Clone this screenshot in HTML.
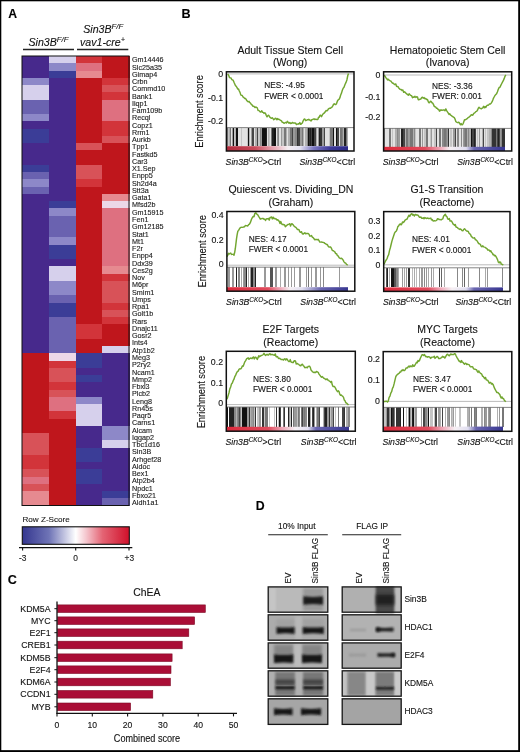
<!DOCTYPE html>
<html><head><meta charset="utf-8"><style>
html,body{margin:0;padding:0;background:#fff;overflow:hidden;width:520px;height:752px;}
svg{display:block;filter:blur(0.35px);}
text{stroke:#1a1a1a;stroke-width:0.12px;}
</style></head><body>
<svg width="520" height="752" viewBox="0 0 520 752">
<rect x="0" y="0" width="520" height="752" fill="#fff"/>
<g shape-rendering="crispEdges">
<rect x="22.00" y="56.00" width="27.25" height="7.75" fill="#47298c"/>
<rect x="22.00" y="63.25" width="27.25" height="7.75" fill="#47298c"/>
<rect x="22.00" y="70.50" width="27.25" height="7.75" fill="#47298c"/>
<rect x="22.00" y="77.75" width="27.25" height="7.75" fill="#8d88c8"/>
<rect x="22.00" y="85.00" width="27.25" height="7.75" fill="#d6d0ec"/>
<rect x="22.00" y="92.25" width="27.25" height="7.75" fill="#d6d0ec"/>
<rect x="22.00" y="99.50" width="27.25" height="7.75" fill="#6a62b0"/>
<rect x="22.00" y="106.75" width="27.25" height="7.75" fill="#6a62b0"/>
<rect x="22.00" y="114.00" width="27.25" height="7.75" fill="#8d88c8"/>
<rect x="22.00" y="121.25" width="27.25" height="7.75" fill="#47298c"/>
<rect x="22.00" y="128.50" width="27.25" height="7.75" fill="#3b3d97"/>
<rect x="22.00" y="135.75" width="27.25" height="7.75" fill="#3b3d97"/>
<rect x="22.00" y="143.00" width="27.25" height="7.75" fill="#47298c"/>
<rect x="22.00" y="150.25" width="27.25" height="7.75" fill="#47298c"/>
<rect x="22.00" y="157.50" width="27.25" height="7.75" fill="#47298c"/>
<rect x="22.00" y="164.75" width="27.25" height="7.75" fill="#3b3d97"/>
<rect x="22.00" y="172.00" width="27.25" height="7.75" fill="#6a62b0"/>
<rect x="22.00" y="179.25" width="27.25" height="7.75" fill="#8d88c8"/>
<rect x="22.00" y="186.50" width="27.25" height="7.75" fill="#6a62b0"/>
<rect x="22.00" y="193.75" width="27.25" height="7.75" fill="#47298c"/>
<rect x="22.00" y="201.00" width="27.25" height="7.75" fill="#47298c"/>
<rect x="22.00" y="208.25" width="27.25" height="7.75" fill="#47298c"/>
<rect x="22.00" y="215.50" width="27.25" height="7.75" fill="#47298c"/>
<rect x="22.00" y="222.75" width="27.25" height="7.75" fill="#47298c"/>
<rect x="22.00" y="230.00" width="27.25" height="7.75" fill="#47298c"/>
<rect x="22.00" y="237.25" width="27.25" height="7.75" fill="#47298c"/>
<rect x="22.00" y="244.50" width="27.25" height="7.75" fill="#47298c"/>
<rect x="22.00" y="251.75" width="27.25" height="7.75" fill="#47298c"/>
<rect x="22.00" y="259.00" width="27.25" height="7.75" fill="#47298c"/>
<rect x="22.00" y="266.25" width="27.25" height="7.75" fill="#47298c"/>
<rect x="22.00" y="273.50" width="27.25" height="7.75" fill="#47298c"/>
<rect x="22.00" y="280.75" width="27.25" height="7.75" fill="#47298c"/>
<rect x="22.00" y="288.00" width="27.25" height="7.75" fill="#47298c"/>
<rect x="22.00" y="295.25" width="27.25" height="7.75" fill="#47298c"/>
<rect x="22.00" y="302.50" width="27.25" height="7.75" fill="#47298c"/>
<rect x="22.00" y="309.75" width="27.25" height="7.75" fill="#47298c"/>
<rect x="22.00" y="317.00" width="27.25" height="7.75" fill="#47298c"/>
<rect x="22.00" y="324.25" width="27.25" height="7.75" fill="#47298c"/>
<rect x="22.00" y="331.50" width="27.25" height="7.75" fill="#47298c"/>
<rect x="22.00" y="338.75" width="27.25" height="7.75" fill="#47298c"/>
<rect x="22.00" y="346.00" width="27.25" height="7.75" fill="#47298c"/>
<rect x="22.00" y="353.25" width="27.25" height="7.75" fill="#bf161c"/>
<rect x="22.00" y="360.50" width="27.25" height="7.75" fill="#bf161c"/>
<rect x="22.00" y="367.75" width="27.25" height="7.75" fill="#bf161c"/>
<rect x="22.00" y="375.00" width="27.25" height="7.75" fill="#bf161c"/>
<rect x="22.00" y="382.25" width="27.25" height="7.75" fill="#bf161c"/>
<rect x="22.00" y="389.50" width="27.25" height="7.75" fill="#bf161c"/>
<rect x="22.00" y="396.75" width="27.25" height="7.75" fill="#bf161c"/>
<rect x="22.00" y="404.00" width="27.25" height="7.75" fill="#bf161c"/>
<rect x="22.00" y="411.25" width="27.25" height="7.75" fill="#bf161c"/>
<rect x="22.00" y="418.50" width="27.25" height="7.75" fill="#bf161c"/>
<rect x="22.00" y="425.75" width="27.25" height="7.75" fill="#bf161c"/>
<rect x="22.00" y="433.00" width="27.25" height="7.75" fill="#d85258"/>
<rect x="22.00" y="440.25" width="27.25" height="7.75" fill="#d85258"/>
<rect x="22.00" y="447.50" width="27.25" height="7.75" fill="#d85258"/>
<rect x="22.00" y="454.75" width="27.25" height="7.75" fill="#d2343a"/>
<rect x="22.00" y="462.00" width="27.25" height="7.75" fill="#d2343a"/>
<rect x="22.00" y="469.25" width="27.25" height="7.75" fill="#d85258"/>
<rect x="22.00" y="476.50" width="27.25" height="7.75" fill="#de7080"/>
<rect x="22.00" y="483.75" width="27.25" height="7.75" fill="#d85258"/>
<rect x="22.00" y="491.00" width="27.25" height="7.75" fill="#e68a90"/>
<rect x="22.00" y="498.25" width="27.25" height="7.75" fill="#e68a90"/>
<rect x="48.75" y="56.00" width="27.25" height="7.75" fill="#d6d0ec"/>
<rect x="48.75" y="63.25" width="27.25" height="7.75" fill="#8d88c8"/>
<rect x="48.75" y="70.50" width="27.25" height="7.75" fill="#3b3d97"/>
<rect x="48.75" y="77.75" width="27.25" height="7.75" fill="#47298c"/>
<rect x="48.75" y="85.00" width="27.25" height="7.75" fill="#47298c"/>
<rect x="48.75" y="92.25" width="27.25" height="7.75" fill="#47298c"/>
<rect x="48.75" y="99.50" width="27.25" height="7.75" fill="#47298c"/>
<rect x="48.75" y="106.75" width="27.25" height="7.75" fill="#47298c"/>
<rect x="48.75" y="114.00" width="27.25" height="7.75" fill="#47298c"/>
<rect x="48.75" y="121.25" width="27.25" height="7.75" fill="#47298c"/>
<rect x="48.75" y="128.50" width="27.25" height="7.75" fill="#47298c"/>
<rect x="48.75" y="135.75" width="27.25" height="7.75" fill="#47298c"/>
<rect x="48.75" y="143.00" width="27.25" height="7.75" fill="#47298c"/>
<rect x="48.75" y="150.25" width="27.25" height="7.75" fill="#47298c"/>
<rect x="48.75" y="157.50" width="27.25" height="7.75" fill="#47298c"/>
<rect x="48.75" y="164.75" width="27.25" height="7.75" fill="#47298c"/>
<rect x="48.75" y="172.00" width="27.25" height="7.75" fill="#47298c"/>
<rect x="48.75" y="179.25" width="27.25" height="7.75" fill="#47298c"/>
<rect x="48.75" y="186.50" width="27.25" height="7.75" fill="#47298c"/>
<rect x="48.75" y="193.75" width="27.25" height="7.75" fill="#47298c"/>
<rect x="48.75" y="201.00" width="27.25" height="7.75" fill="#3b3d97"/>
<rect x="48.75" y="208.25" width="27.25" height="7.75" fill="#8d88c8"/>
<rect x="48.75" y="215.50" width="27.25" height="7.75" fill="#6a62b0"/>
<rect x="48.75" y="222.75" width="27.25" height="7.75" fill="#6a62b0"/>
<rect x="48.75" y="230.00" width="27.25" height="7.75" fill="#6a62b0"/>
<rect x="48.75" y="237.25" width="27.25" height="7.75" fill="#8d88c8"/>
<rect x="48.75" y="244.50" width="27.25" height="7.75" fill="#3b3d97"/>
<rect x="48.75" y="251.75" width="27.25" height="7.75" fill="#3b3d97"/>
<rect x="48.75" y="259.00" width="27.25" height="7.75" fill="#47298c"/>
<rect x="48.75" y="266.25" width="27.25" height="7.75" fill="#d6d0ec"/>
<rect x="48.75" y="273.50" width="27.25" height="7.75" fill="#d6d0ec"/>
<rect x="48.75" y="280.75" width="27.25" height="7.75" fill="#8d88c8"/>
<rect x="48.75" y="288.00" width="27.25" height="7.75" fill="#8d88c8"/>
<rect x="48.75" y="295.25" width="27.25" height="7.75" fill="#6a62b0"/>
<rect x="48.75" y="302.50" width="27.25" height="7.75" fill="#3b3d97"/>
<rect x="48.75" y="309.75" width="27.25" height="7.75" fill="#3b3d97"/>
<rect x="48.75" y="317.00" width="27.25" height="7.75" fill="#6a62b0"/>
<rect x="48.75" y="324.25" width="27.25" height="7.75" fill="#6a62b0"/>
<rect x="48.75" y="331.50" width="27.25" height="7.75" fill="#6a62b0"/>
<rect x="48.75" y="338.75" width="27.25" height="7.75" fill="#6a62b0"/>
<rect x="48.75" y="346.00" width="27.25" height="7.75" fill="#6a62b0"/>
<rect x="48.75" y="353.25" width="27.25" height="7.75" fill="#ecd8e8"/>
<rect x="48.75" y="360.50" width="27.25" height="7.75" fill="#d2343a"/>
<rect x="48.75" y="367.75" width="27.25" height="7.75" fill="#d85258"/>
<rect x="48.75" y="375.00" width="27.25" height="7.75" fill="#d85258"/>
<rect x="48.75" y="382.25" width="27.25" height="7.75" fill="#d2343a"/>
<rect x="48.75" y="389.50" width="27.25" height="7.75" fill="#d85258"/>
<rect x="48.75" y="396.75" width="27.25" height="7.75" fill="#de7080"/>
<rect x="48.75" y="404.00" width="27.25" height="7.75" fill="#de7080"/>
<rect x="48.75" y="411.25" width="27.25" height="7.75" fill="#d2343a"/>
<rect x="48.75" y="418.50" width="27.25" height="7.75" fill="#bf161c"/>
<rect x="48.75" y="425.75" width="27.25" height="7.75" fill="#bf161c"/>
<rect x="48.75" y="433.00" width="27.25" height="7.75" fill="#bf161c"/>
<rect x="48.75" y="440.25" width="27.25" height="7.75" fill="#bf161c"/>
<rect x="48.75" y="447.50" width="27.25" height="7.75" fill="#bf161c"/>
<rect x="48.75" y="454.75" width="27.25" height="7.75" fill="#bf161c"/>
<rect x="48.75" y="462.00" width="27.25" height="7.75" fill="#bf161c"/>
<rect x="48.75" y="469.25" width="27.25" height="7.75" fill="#bf161c"/>
<rect x="48.75" y="476.50" width="27.25" height="7.75" fill="#bf161c"/>
<rect x="48.75" y="483.75" width="27.25" height="7.75" fill="#bf161c"/>
<rect x="48.75" y="491.00" width="27.25" height="7.75" fill="#bf161c"/>
<rect x="48.75" y="498.25" width="27.25" height="7.75" fill="#bf161c"/>
<rect x="75.50" y="56.00" width="27.25" height="7.75" fill="#d2343a"/>
<rect x="75.50" y="63.25" width="27.25" height="7.75" fill="#de7080"/>
<rect x="75.50" y="70.50" width="27.25" height="7.75" fill="#e68a90"/>
<rect x="75.50" y="77.75" width="27.25" height="7.75" fill="#bf161c"/>
<rect x="75.50" y="85.00" width="27.25" height="7.75" fill="#bf161c"/>
<rect x="75.50" y="92.25" width="27.25" height="7.75" fill="#bf161c"/>
<rect x="75.50" y="99.50" width="27.25" height="7.75" fill="#bf161c"/>
<rect x="75.50" y="106.75" width="27.25" height="7.75" fill="#bf161c"/>
<rect x="75.50" y="114.00" width="27.25" height="7.75" fill="#bf161c"/>
<rect x="75.50" y="121.25" width="27.25" height="7.75" fill="#bf161c"/>
<rect x="75.50" y="128.50" width="27.25" height="7.75" fill="#bf161c"/>
<rect x="75.50" y="135.75" width="27.25" height="7.75" fill="#bf161c"/>
<rect x="75.50" y="143.00" width="27.25" height="7.75" fill="#d85258"/>
<rect x="75.50" y="150.25" width="27.25" height="7.75" fill="#bf161c"/>
<rect x="75.50" y="157.50" width="27.25" height="7.75" fill="#bf161c"/>
<rect x="75.50" y="164.75" width="27.25" height="7.75" fill="#d85258"/>
<rect x="75.50" y="172.00" width="27.25" height="7.75" fill="#d85258"/>
<rect x="75.50" y="179.25" width="27.25" height="7.75" fill="#d2343a"/>
<rect x="75.50" y="186.50" width="27.25" height="7.75" fill="#bf161c"/>
<rect x="75.50" y="193.75" width="27.25" height="7.75" fill="#bf161c"/>
<rect x="75.50" y="201.00" width="27.25" height="7.75" fill="#bf161c"/>
<rect x="75.50" y="208.25" width="27.25" height="7.75" fill="#bf161c"/>
<rect x="75.50" y="215.50" width="27.25" height="7.75" fill="#bf161c"/>
<rect x="75.50" y="222.75" width="27.25" height="7.75" fill="#bf161c"/>
<rect x="75.50" y="230.00" width="27.25" height="7.75" fill="#bf161c"/>
<rect x="75.50" y="237.25" width="27.25" height="7.75" fill="#bf161c"/>
<rect x="75.50" y="244.50" width="27.25" height="7.75" fill="#bf161c"/>
<rect x="75.50" y="251.75" width="27.25" height="7.75" fill="#bf161c"/>
<rect x="75.50" y="259.00" width="27.25" height="7.75" fill="#bf161c"/>
<rect x="75.50" y="266.25" width="27.25" height="7.75" fill="#bf161c"/>
<rect x="75.50" y="273.50" width="27.25" height="7.75" fill="#bf161c"/>
<rect x="75.50" y="280.75" width="27.25" height="7.75" fill="#bf161c"/>
<rect x="75.50" y="288.00" width="27.25" height="7.75" fill="#bf161c"/>
<rect x="75.50" y="295.25" width="27.25" height="7.75" fill="#bf161c"/>
<rect x="75.50" y="302.50" width="27.25" height="7.75" fill="#bf161c"/>
<rect x="75.50" y="309.75" width="27.25" height="7.75" fill="#bf161c"/>
<rect x="75.50" y="317.00" width="27.25" height="7.75" fill="#bf161c"/>
<rect x="75.50" y="324.25" width="27.25" height="7.75" fill="#d2343a"/>
<rect x="75.50" y="331.50" width="27.25" height="7.75" fill="#d2343a"/>
<rect x="75.50" y="338.75" width="27.25" height="7.75" fill="#bf161c"/>
<rect x="75.50" y="346.00" width="27.25" height="7.75" fill="#bf161c"/>
<rect x="75.50" y="353.25" width="27.25" height="7.75" fill="#3b3d97"/>
<rect x="75.50" y="360.50" width="27.25" height="7.75" fill="#3b3d97"/>
<rect x="75.50" y="367.75" width="27.25" height="7.75" fill="#47298c"/>
<rect x="75.50" y="375.00" width="27.25" height="7.75" fill="#3b3d97"/>
<rect x="75.50" y="382.25" width="27.25" height="7.75" fill="#47298c"/>
<rect x="75.50" y="389.50" width="27.25" height="7.75" fill="#47298c"/>
<rect x="75.50" y="396.75" width="27.25" height="7.75" fill="#8d88c8"/>
<rect x="75.50" y="404.00" width="27.25" height="7.75" fill="#d6d0ec"/>
<rect x="75.50" y="411.25" width="27.25" height="7.75" fill="#d6d0ec"/>
<rect x="75.50" y="418.50" width="27.25" height="7.75" fill="#d6d0ec"/>
<rect x="75.50" y="425.75" width="27.25" height="7.75" fill="#47298c"/>
<rect x="75.50" y="433.00" width="27.25" height="7.75" fill="#47298c"/>
<rect x="75.50" y="440.25" width="27.25" height="7.75" fill="#47298c"/>
<rect x="75.50" y="447.50" width="27.25" height="7.75" fill="#3b3d97"/>
<rect x="75.50" y="454.75" width="27.25" height="7.75" fill="#3b3d97"/>
<rect x="75.50" y="462.00" width="27.25" height="7.75" fill="#47298c"/>
<rect x="75.50" y="469.25" width="27.25" height="7.75" fill="#3b3d97"/>
<rect x="75.50" y="476.50" width="27.25" height="7.75" fill="#3b3d97"/>
<rect x="75.50" y="483.75" width="27.25" height="7.75" fill="#47298c"/>
<rect x="75.50" y="491.00" width="27.25" height="7.75" fill="#47298c"/>
<rect x="75.50" y="498.25" width="27.25" height="7.75" fill="#47298c"/>
<rect x="102.25" y="56.00" width="27.25" height="7.75" fill="#bf161c"/>
<rect x="102.25" y="63.25" width="27.25" height="7.75" fill="#bf161c"/>
<rect x="102.25" y="70.50" width="27.25" height="7.75" fill="#bf161c"/>
<rect x="102.25" y="77.75" width="27.25" height="7.75" fill="#d2343a"/>
<rect x="102.25" y="85.00" width="27.25" height="7.75" fill="#d85258"/>
<rect x="102.25" y="92.25" width="27.25" height="7.75" fill="#d2343a"/>
<rect x="102.25" y="99.50" width="27.25" height="7.75" fill="#de7080"/>
<rect x="102.25" y="106.75" width="27.25" height="7.75" fill="#de7080"/>
<rect x="102.25" y="114.00" width="27.25" height="7.75" fill="#de7080"/>
<rect x="102.25" y="121.25" width="27.25" height="7.75" fill="#d2343a"/>
<rect x="102.25" y="128.50" width="27.25" height="7.75" fill="#d2343a"/>
<rect x="102.25" y="135.75" width="27.25" height="7.75" fill="#d85258"/>
<rect x="102.25" y="143.00" width="27.25" height="7.75" fill="#bf161c"/>
<rect x="102.25" y="150.25" width="27.25" height="7.75" fill="#bf161c"/>
<rect x="102.25" y="157.50" width="27.25" height="7.75" fill="#bf161c"/>
<rect x="102.25" y="164.75" width="27.25" height="7.75" fill="#bf161c"/>
<rect x="102.25" y="172.00" width="27.25" height="7.75" fill="#bf161c"/>
<rect x="102.25" y="179.25" width="27.25" height="7.75" fill="#bf161c"/>
<rect x="102.25" y="186.50" width="27.25" height="7.75" fill="#bf161c"/>
<rect x="102.25" y="193.75" width="27.25" height="7.75" fill="#e68a90"/>
<rect x="102.25" y="201.00" width="27.25" height="7.75" fill="#ecd8e8"/>
<rect x="102.25" y="208.25" width="27.25" height="7.75" fill="#de7080"/>
<rect x="102.25" y="215.50" width="27.25" height="7.75" fill="#de7080"/>
<rect x="102.25" y="222.75" width="27.25" height="7.75" fill="#de7080"/>
<rect x="102.25" y="230.00" width="27.25" height="7.75" fill="#de7080"/>
<rect x="102.25" y="237.25" width="27.25" height="7.75" fill="#de7080"/>
<rect x="102.25" y="244.50" width="27.25" height="7.75" fill="#de7080"/>
<rect x="102.25" y="251.75" width="27.25" height="7.75" fill="#de7080"/>
<rect x="102.25" y="259.00" width="27.25" height="7.75" fill="#de7080"/>
<rect x="102.25" y="266.25" width="27.25" height="7.75" fill="#e68a90"/>
<rect x="102.25" y="273.50" width="27.25" height="7.75" fill="#d2343a"/>
<rect x="102.25" y="280.75" width="27.25" height="7.75" fill="#d85258"/>
<rect x="102.25" y="288.00" width="27.25" height="7.75" fill="#d85258"/>
<rect x="102.25" y="295.25" width="27.25" height="7.75" fill="#d85258"/>
<rect x="102.25" y="302.50" width="27.25" height="7.75" fill="#d2343a"/>
<rect x="102.25" y="309.75" width="27.25" height="7.75" fill="#d85258"/>
<rect x="102.25" y="317.00" width="27.25" height="7.75" fill="#d2343a"/>
<rect x="102.25" y="324.25" width="27.25" height="7.75" fill="#bf161c"/>
<rect x="102.25" y="331.50" width="27.25" height="7.75" fill="#bf161c"/>
<rect x="102.25" y="338.75" width="27.25" height="7.75" fill="#bf161c"/>
<rect x="102.25" y="346.00" width="27.25" height="7.75" fill="#d6d0ec"/>
<rect x="102.25" y="353.25" width="27.25" height="7.75" fill="#47298c"/>
<rect x="102.25" y="360.50" width="27.25" height="7.75" fill="#47298c"/>
<rect x="102.25" y="367.75" width="27.25" height="7.75" fill="#47298c"/>
<rect x="102.25" y="375.00" width="27.25" height="7.75" fill="#47298c"/>
<rect x="102.25" y="382.25" width="27.25" height="7.75" fill="#47298c"/>
<rect x="102.25" y="389.50" width="27.25" height="7.75" fill="#47298c"/>
<rect x="102.25" y="396.75" width="27.25" height="7.75" fill="#47298c"/>
<rect x="102.25" y="404.00" width="27.25" height="7.75" fill="#47298c"/>
<rect x="102.25" y="411.25" width="27.25" height="7.75" fill="#47298c"/>
<rect x="102.25" y="418.50" width="27.25" height="7.75" fill="#47298c"/>
<rect x="102.25" y="425.75" width="27.25" height="7.75" fill="#8d88c8"/>
<rect x="102.25" y="433.00" width="27.25" height="7.75" fill="#8d88c8"/>
<rect x="102.25" y="440.25" width="27.25" height="7.75" fill="#d6d0ec"/>
<rect x="102.25" y="447.50" width="27.25" height="7.75" fill="#47298c"/>
<rect x="102.25" y="454.75" width="27.25" height="7.75" fill="#47298c"/>
<rect x="102.25" y="462.00" width="27.25" height="7.75" fill="#47298c"/>
<rect x="102.25" y="469.25" width="27.25" height="7.75" fill="#47298c"/>
<rect x="102.25" y="476.50" width="27.25" height="7.75" fill="#47298c"/>
<rect x="102.25" y="483.75" width="27.25" height="7.75" fill="#47298c"/>
<rect x="102.25" y="491.00" width="27.25" height="7.75" fill="#3b3d97"/>
<rect x="102.25" y="498.25" width="27.25" height="7.75" fill="#6a62b0"/>
</g>
<rect x="22.00" y="56.00" width="107.00" height="449.50" fill="none" stroke="#111" stroke-width="1"/>
<text x="132" y="62.25" font-size="7.2" fill="#222" font-family="Liberation Sans, sans-serif">Gm14446</text>
<text x="132" y="69.51" font-size="7.2" fill="#222" font-family="Liberation Sans, sans-serif">Slc25a35</text>
<text x="132" y="76.77" font-size="7.2" fill="#222" font-family="Liberation Sans, sans-serif">Gimap4</text>
<text x="132" y="84.04" font-size="7.2" fill="#222" font-family="Liberation Sans, sans-serif">Crbn</text>
<text x="132" y="91.30" font-size="7.2" fill="#222" font-family="Liberation Sans, sans-serif">Commd10</text>
<text x="132" y="98.56" font-size="7.2" fill="#222" font-family="Liberation Sans, sans-serif">Bank1</text>
<text x="132" y="105.82" font-size="7.2" fill="#222" font-family="Liberation Sans, sans-serif">Iiqp1</text>
<text x="132" y="113.08" font-size="7.2" fill="#222" font-family="Liberation Sans, sans-serif">Fam109b</text>
<text x="132" y="120.35" font-size="7.2" fill="#222" font-family="Liberation Sans, sans-serif">Recql</text>
<text x="132" y="127.61" font-size="7.2" fill="#222" font-family="Liberation Sans, sans-serif">Copz1</text>
<text x="132" y="134.87" font-size="7.2" fill="#222" font-family="Liberation Sans, sans-serif">Rrm1</text>
<text x="132" y="142.13" font-size="7.2" fill="#222" font-family="Liberation Sans, sans-serif">Aurkb</text>
<text x="132" y="149.39" font-size="7.2" fill="#222" font-family="Liberation Sans, sans-serif">Tpp1</text>
<text x="132" y="156.66" font-size="7.2" fill="#222" font-family="Liberation Sans, sans-serif">Fastkd5</text>
<text x="132" y="163.92" font-size="7.2" fill="#222" font-family="Liberation Sans, sans-serif">Car3</text>
<text x="132" y="171.18" font-size="7.2" fill="#222" font-family="Liberation Sans, sans-serif">X1.Sep</text>
<text x="132" y="178.44" font-size="7.2" fill="#222" font-family="Liberation Sans, sans-serif">Enpp5</text>
<text x="132" y="185.70" font-size="7.2" fill="#222" font-family="Liberation Sans, sans-serif">Sh2d4a</text>
<text x="132" y="192.97" font-size="7.2" fill="#222" font-family="Liberation Sans, sans-serif">Stt3a</text>
<text x="132" y="200.23" font-size="7.2" fill="#222" font-family="Liberation Sans, sans-serif">Gata1</text>
<text x="132" y="207.49" font-size="7.2" fill="#222" font-family="Liberation Sans, sans-serif">Mfsd2b</text>
<text x="132" y="214.75" font-size="7.2" fill="#222" font-family="Liberation Sans, sans-serif">Gm15915</text>
<text x="132" y="222.01" font-size="7.2" fill="#222" font-family="Liberation Sans, sans-serif">Fen1</text>
<text x="132" y="229.28" font-size="7.2" fill="#222" font-family="Liberation Sans, sans-serif">Gm12185</text>
<text x="132" y="236.54" font-size="7.2" fill="#222" font-family="Liberation Sans, sans-serif">Stat1</text>
<text x="132" y="243.80" font-size="7.2" fill="#222" font-family="Liberation Sans, sans-serif">Mt1</text>
<text x="132" y="251.06" font-size="7.2" fill="#222" font-family="Liberation Sans, sans-serif">F2r</text>
<text x="132" y="258.32" font-size="7.2" fill="#222" font-family="Liberation Sans, sans-serif">Enpp4</text>
<text x="132" y="265.59" font-size="7.2" fill="#222" font-family="Liberation Sans, sans-serif">Ddx39</text>
<text x="132" y="272.85" font-size="7.2" fill="#222" font-family="Liberation Sans, sans-serif">Ces2g</text>
<text x="132" y="280.11" font-size="7.2" fill="#222" font-family="Liberation Sans, sans-serif">Nov</text>
<text x="132" y="287.37" font-size="7.2" fill="#222" font-family="Liberation Sans, sans-serif">M6pr</text>
<text x="132" y="294.63" font-size="7.2" fill="#222" font-family="Liberation Sans, sans-serif">Smim1</text>
<text x="132" y="301.90" font-size="7.2" fill="#222" font-family="Liberation Sans, sans-serif">Umps</text>
<text x="132" y="309.16" font-size="7.2" fill="#222" font-family="Liberation Sans, sans-serif">Rpa1</text>
<text x="132" y="316.42" font-size="7.2" fill="#222" font-family="Liberation Sans, sans-serif">Golt1b</text>
<text x="132" y="323.68" font-size="7.2" fill="#222" font-family="Liberation Sans, sans-serif">Rars</text>
<text x="132" y="330.94" font-size="7.2" fill="#222" font-family="Liberation Sans, sans-serif">Dnajc11</text>
<text x="132" y="338.21" font-size="7.2" fill="#222" font-family="Liberation Sans, sans-serif">Gosr2</text>
<text x="132" y="345.47" font-size="7.2" fill="#222" font-family="Liberation Sans, sans-serif">Ints4</text>
<text x="132" y="352.73" font-size="7.2" fill="#222" font-family="Liberation Sans, sans-serif">Atp1b2</text>
<text x="132" y="359.99" font-size="7.2" fill="#222" font-family="Liberation Sans, sans-serif">Meg3</text>
<text x="132" y="367.25" font-size="7.2" fill="#222" font-family="Liberation Sans, sans-serif">P2ry2</text>
<text x="132" y="374.52" font-size="7.2" fill="#222" font-family="Liberation Sans, sans-serif">Ncam1</text>
<text x="132" y="381.78" font-size="7.2" fill="#222" font-family="Liberation Sans, sans-serif">Mmp2</text>
<text x="132" y="389.04" font-size="7.2" fill="#222" font-family="Liberation Sans, sans-serif">Fbxl3</text>
<text x="132" y="396.30" font-size="7.2" fill="#222" font-family="Liberation Sans, sans-serif">Plcb2</text>
<text x="132" y="403.56" font-size="7.2" fill="#222" font-family="Liberation Sans, sans-serif">Leng8</text>
<text x="132" y="410.83" font-size="7.2" fill="#222" font-family="Liberation Sans, sans-serif">Rn45s</text>
<text x="132" y="418.09" font-size="7.2" fill="#222" font-family="Liberation Sans, sans-serif">Paqr5</text>
<text x="132" y="425.35" font-size="7.2" fill="#222" font-family="Liberation Sans, sans-serif">Carns1</text>
<text x="132" y="432.61" font-size="7.2" fill="#222" font-family="Liberation Sans, sans-serif">Alcam</text>
<text x="132" y="439.87" font-size="7.2" fill="#222" font-family="Liberation Sans, sans-serif">Iqgap2</text>
<text x="132" y="447.14" font-size="7.2" fill="#222" font-family="Liberation Sans, sans-serif">Tbc1d16</text>
<text x="132" y="454.40" font-size="7.2" fill="#222" font-family="Liberation Sans, sans-serif">Sin3B</text>
<text x="132" y="461.66" font-size="7.2" fill="#222" font-family="Liberation Sans, sans-serif">Arhgef28</text>
<text x="132" y="468.92" font-size="7.2" fill="#222" font-family="Liberation Sans, sans-serif">Aldoc</text>
<text x="132" y="476.18" font-size="7.2" fill="#222" font-family="Liberation Sans, sans-serif">Bex1</text>
<text x="132" y="483.45" font-size="7.2" fill="#222" font-family="Liberation Sans, sans-serif">Atp2b4</text>
<text x="132" y="490.71" font-size="7.2" fill="#222" font-family="Liberation Sans, sans-serif">Npdc1</text>
<text x="132" y="497.97" font-size="7.2" fill="#222" font-family="Liberation Sans, sans-serif">Fbxo21</text>
<text x="132" y="505.23" font-size="7.2" fill="#222" font-family="Liberation Sans, sans-serif">Aldh1a1</text>
<text x="8.3" y="17.6" font-size="12.2" font-weight="bold" font-family="Liberation Sans, sans-serif">A</text>
<text x="48.5" y="45.9" font-size="10.6" font-style="italic" text-anchor="middle" fill="#111" font-family="Liberation Sans, sans-serif">Sin3B<tspan font-size="7.84" dy="-4.03">F/F</tspan></text>
<text x="103.3" y="32.8" font-size="10.6" font-style="italic" text-anchor="middle" fill="#111" font-family="Liberation Sans, sans-serif">Sin3B<tspan font-size="7.84" dy="-4.03">F/F</tspan></text>
<text x="102.5" y="45.9" font-size="10.6" font-style="italic" text-anchor="middle" fill="#111" font-family="Liberation Sans, sans-serif">vav1-cre<tspan font-size="7.4" dy="-4">+</tspan></text>
<line x1="23" y1="49.6" x2="74" y2="49.6" stroke="#222" stroke-width="1.5"/>
<line x1="77" y1="49.6" x2="128.3" y2="49.6" stroke="#222" stroke-width="1.5"/>
<defs><linearGradient id="zg" x1="0" x2="1" y1="0" y2="0"><stop offset="0" stop-color="#34368f"/><stop offset="0.25" stop-color="#6f74b6"/><stop offset="0.5" stop-color="#ffffff"/><stop offset="0.6" stop-color="#f4c4cc"/><stop offset="0.75" stop-color="#e46474"/><stop offset="1" stop-color="#d0102a"/></linearGradient></defs>
<text x="22.5" y="522.4" font-size="8.1" fill="#222" font-family="Liberation Sans, sans-serif">Row Z-Score</text>
<rect x="22.3" y="526.8" width="107" height="17.5" fill="url(#zg)" stroke="#111" stroke-width="1.1"/>
<line x1="19" y1="547.6" x2="132.3" y2="547.6" stroke="#111" stroke-width="1.2"/>
<line x1="22.6" y1="547.2" x2="22.6" y2="550.6" stroke="#111" stroke-width="1.1"/>
<line x1="75.7" y1="547.2" x2="75.7" y2="550.6" stroke="#111" stroke-width="1.1"/>
<line x1="129.0" y1="547.2" x2="129.0" y2="550.6" stroke="#111" stroke-width="1.1"/>
<text x="22.8" y="561.2" font-size="8.4" text-anchor="middle" fill="#222" font-family="Liberation Sans, sans-serif">-3</text>
<text x="75.7" y="561.2" font-size="8.4" text-anchor="middle" fill="#222" font-family="Liberation Sans, sans-serif">0</text>
<text x="129.4" y="561.2" font-size="8.4" text-anchor="middle" fill="#222" font-family="Liberation Sans, sans-serif">+3</text>
<text x="181.6" y="18.4" font-size="12.6" font-weight="bold" font-family="Liberation Sans, sans-serif">B</text>
<text x="290.2" y="53.9" font-size="10.5" text-anchor="middle" fill="#111" font-family="Liberation Sans, sans-serif">Adult Tissue Stem Cell</text>
<text x="290.2" y="66.3" font-size="10.5" text-anchor="middle" fill="#111" font-family="Liberation Sans, sans-serif">(Wong)</text>
<rect x="226.4" y="71.8" width="127.60" height="79.20" fill="#fff"/>
<rect x="226.4" y="127.60" width="121.60" height="18.60" fill="#e2e2e2"/>
<g shape-rendering="crispEdges">
<rect x="227" y="127.60" width="1" height="18.60" fill="#777"/>
<rect x="228" y="127.60" width="1" height="18.60" fill="#c4c4c4"/>
<rect x="229" y="127.60" width="1" height="18.60" fill="#b0b0b0"/>
<rect x="230" y="127.60" width="1" height="18.60" fill="#777"/>
<rect x="232" y="127.60" width="1" height="18.60" fill="#9a9a9a"/>
<rect x="233" y="127.60" width="1" height="18.60" fill="#111"/>
<rect x="234" y="127.60" width="1" height="18.60" fill="#c4c4c4"/>
<rect x="235" y="127.60" width="1" height="18.60" fill="#b0b0b0"/>
<rect x="236" y="127.60" width="2" height="18.60" fill="#111"/>
<rect x="241" y="127.60" width="1" height="18.60" fill="#c4c4c4"/>
<rect x="247" y="127.60" width="1" height="18.60" fill="#c4c4c4"/>
<rect x="248" y="127.60" width="1" height="18.60" fill="#111"/>
<rect x="249" y="127.60" width="1" height="18.60" fill="#b0b0b0"/>
<rect x="251" y="127.60" width="1" height="18.60" fill="#9a9a9a"/>
<rect x="252" y="127.60" width="2" height="18.60" fill="#444"/>
<rect x="255" y="127.60" width="2" height="18.60" fill="#b0b0b0"/>
<rect x="257" y="127.60" width="1" height="18.60" fill="#444"/>
<rect x="258" y="127.60" width="2" height="18.60" fill="#c4c4c4"/>
<rect x="260" y="127.60" width="1" height="18.60" fill="#888"/>
<rect x="261" y="127.60" width="1" height="18.60" fill="#9a9a9a"/>
<rect x="262" y="127.60" width="2" height="18.60" fill="#111"/>
<rect x="264" y="127.60" width="2" height="18.60" fill="#111"/>
<rect x="266" y="127.60" width="1" height="18.60" fill="#222"/>
<rect x="268" y="127.60" width="1" height="18.60" fill="#b0b0b0"/>
<rect x="269" y="127.60" width="1" height="18.60" fill="#c4c4c4"/>
<rect x="271" y="127.60" width="1" height="18.60" fill="#777"/>
<rect x="272" y="127.60" width="2" height="18.60" fill="#222"/>
<rect x="274" y="127.60" width="2" height="18.60" fill="#111"/>
<rect x="277" y="127.60" width="1" height="18.60" fill="#9a9a9a"/>
<rect x="278" y="127.60" width="1" height="18.60" fill="#888"/>
<rect x="281" y="127.60" width="1" height="18.60" fill="#9a9a9a"/>
<rect x="282" y="127.60" width="2" height="18.60" fill="#c4c4c4"/>
<rect x="284" y="127.60" width="2" height="18.60" fill="#777"/>
<rect x="286" y="127.60" width="1" height="18.60" fill="#b0b0b0"/>
<rect x="288" y="127.60" width="2" height="18.60" fill="#b0b0b0"/>
<rect x="290" y="127.60" width="2" height="18.60" fill="#777"/>
<rect x="292" y="127.60" width="1" height="18.60" fill="#444"/>
<rect x="293" y="127.60" width="2" height="18.60" fill="#9a9a9a"/>
<rect x="295" y="127.60" width="2" height="18.60" fill="#888"/>
<rect x="297" y="127.60" width="1" height="18.60" fill="#333"/>
<rect x="298" y="127.60" width="2" height="18.60" fill="#444"/>
<rect x="300" y="127.60" width="2" height="18.60" fill="#9a9a9a"/>
<rect x="302" y="127.60" width="1" height="18.60" fill="#777"/>
<rect x="303" y="127.60" width="1" height="18.60" fill="#b0b0b0"/>
<rect x="305" y="127.60" width="2" height="18.60" fill="#b0b0b0"/>
<rect x="307" y="127.60" width="1" height="18.60" fill="#888"/>
<rect x="308" y="127.60" width="1" height="18.60" fill="#111"/>
<rect x="309" y="127.60" width="1" height="18.60" fill="#333"/>
<rect x="310" y="127.60" width="1" height="18.60" fill="#222"/>
<rect x="311" y="127.60" width="1" height="18.60" fill="#444"/>
<rect x="312" y="127.60" width="2" height="18.60" fill="#111"/>
<rect x="314" y="127.60" width="2" height="18.60" fill="#444"/>
<rect x="316" y="127.60" width="1" height="18.60" fill="#b0b0b0"/>
<rect x="318" y="127.60" width="1" height="18.60" fill="#9a9a9a"/>
<rect x="319" y="127.60" width="1" height="18.60" fill="#222"/>
<rect x="320" y="127.60" width="2" height="18.60" fill="#333"/>
<rect x="322" y="127.60" width="1" height="18.60" fill="#9a9a9a"/>
<rect x="323" y="127.60" width="1" height="18.60" fill="#9a9a9a"/>
<rect x="324" y="127.60" width="1" height="18.60" fill="#444"/>
<rect x="329" y="127.60" width="1" height="18.60" fill="#c4c4c4"/>
<rect x="330" y="127.60" width="1" height="18.60" fill="#777"/>
<rect x="331" y="127.60" width="2" height="18.60" fill="#777"/>
<rect x="333" y="127.60" width="1" height="18.60" fill="#111"/>
<rect x="336" y="127.60" width="1" height="18.60" fill="#111"/>
<rect x="337" y="127.60" width="2" height="18.60" fill="#444"/>
<rect x="340" y="127.60" width="2" height="18.60" fill="#777"/>
<rect x="342" y="127.60" width="1" height="18.60" fill="#888"/>
<rect x="343" y="127.60" width="1" height="18.60" fill="#b0b0b0"/>
<rect x="344" y="127.60" width="1" height="18.60" fill="#222"/>
<rect x="345" y="127.60" width="1" height="18.60" fill="#222"/>
<rect x="346" y="127.60" width="1" height="18.60" fill="#777"/>
<rect x="347" y="127.60" width="1" height="18.60" fill="#b0b0b0"/>
</g>
<defs><linearGradient id="cs1" x1="0" x2="1"><stop offset="0.000" stop-color="#b02a3c"/><stop offset="0.235" stop-color="#c84a5a"/><stop offset="0.391" stop-color="#e8a8b4"/><stop offset="0.507" stop-color="#f6eef2"/><stop offset="0.605" stop-color="#e4e2f2"/><stop offset="0.720" stop-color="#7a76c0"/><stop offset="0.852" stop-color="#3e3a98"/><stop offset="0.992" stop-color="#2c2a88"/></linearGradient></defs>
<rect x="226.4" y="146.20" width="121.60" height="4.80" fill="url(#cs1)"/>
<line x1="226.4" y1="127.60" x2="354.0" y2="127.60" stroke="#777" stroke-width="0.9"/>
<line x1="226.4" y1="73.90" x2="354.0" y2="73.90" stroke="#aaa" stroke-width="0.8"/>
<polyline points="227.80,74.00 228.63,75.33 229.47,77.60 230.30,77.90 231.04,78.07 231.78,79.51 232.52,79.92 233.26,80.40 234.00,82.28 234.76,83.97 235.52,85.80 236.28,86.20 237.04,87.73 237.80,89.08 238.54,88.97 239.28,91.00 240.02,92.39 240.76,94.90 241.50,95.34 242.26,95.50 243.02,97.02 243.78,97.36 244.54,98.45 245.30,98.36 246.04,99.13 246.78,100.54 247.52,101.40 248.26,101.76 249.00,101.33 249.76,102.54 250.52,103.20 251.28,104.36 252.04,104.88 252.80,106.16 253.54,106.20 254.28,106.69 255.02,107.60 255.76,106.97 256.50,107.44 257.26,107.89 258.02,110.40 258.78,110.38 259.54,111.24 260.30,111.96 261.04,111.70 261.78,110.73 262.52,112.38 263.26,112.37 264.00,113.45 264.76,112.80 265.52,113.41 266.28,115.37 267.04,116.86 267.80,115.76 268.54,115.20 269.28,116.11 270.02,117.40 270.76,117.84 271.50,118.37 272.26,117.67 273.02,118.67 273.78,119.75 274.54,119.23 275.30,118.26 276.04,118.36 276.78,119.74 277.52,118.61 278.26,119.41 279.00,119.24 279.83,119.92 280.67,120.30 281.50,120.81 282.33,122.38 283.17,122.48 284.00,123.36 284.83,122.83 285.67,122.39 286.50,122.97 287.33,121.33 288.17,122.30 289.00,123.13 289.83,122.44 290.67,123.48 291.50,123.30 292.33,122.43 293.17,123.12 294.00,122.94 294.83,123.00 295.67,123.27 296.50,124.48 297.33,124.17 298.17,123.83 299.00,123.92 299.83,122.55 300.67,124.36 301.50,123.62 302.33,123.01 303.17,120.85 304.00,119.22 304.83,119.08 305.67,120.65 306.50,120.38 307.26,119.75 308.02,119.81 308.78,119.31 309.54,120.08 310.30,120.22 311.04,120.95 311.78,119.60 312.52,119.58 313.26,119.08 314.00,118.81 314.76,119.51 315.52,119.25 316.28,119.30 317.04,119.62 317.80,119.59 318.54,117.28 319.28,117.31 320.02,115.26 320.76,115.27 321.50,116.63 322.26,115.23 323.02,113.98 323.78,113.40 324.54,112.62 325.30,111.86 326.04,110.47 326.78,110.83 327.52,110.53 328.26,109.15 329.00,108.47 329.76,108.28 330.52,108.26 331.28,107.51 332.04,107.11 332.80,105.90 333.54,104.36 334.28,103.75 335.02,104.41 335.76,104.50 336.50,103.67 337.33,101.25 338.17,99.87 339.00,99.44 339.83,97.93 340.67,95.00 341.50,93.15 342.33,90.25 343.17,88.16 344.00,87.32 345.00,84.55 346.00,82.38 346.90,79.98 347.80,75.50 348.50,73.60" fill="none" stroke="#72a630" stroke-width="1.45" stroke-linejoin="round"/>
<rect x="226.4" y="71.8" width="127.60" height="79.20" fill="none" stroke="#111" stroke-width="1.5"/>
<text x="264.2" y="88.3" font-size="8.3" fill="#111" font-family="Liberation Sans, sans-serif">NES: -4.95</text>
<text x="264.2" y="98.6" font-size="8.3" fill="#111" font-family="Liberation Sans, sans-serif">FWER &lt; 0.0001</text>
<text x="223.2" y="76.8" font-size="8.8" text-anchor="end" fill="#111" font-family="Liberation Sans, sans-serif">0</text>
<text x="223.2" y="100.6" font-size="8.8" text-anchor="end" fill="#111" font-family="Liberation Sans, sans-serif">-0.1</text>
<text x="223.2" y="124.3" font-size="8.8" text-anchor="end" fill="#111" font-family="Liberation Sans, sans-serif">-0.2</text>
<text x="225.6" y="164.8" font-size="8.7" fill="#111" font-family="Liberation Sans, sans-serif"><tspan font-style="italic">Sin3B</tspan><tspan font-style="italic" font-size="6.4" dy="-3.2">CKO</tspan><tspan dy="3.2">&gt;Ctrl</tspan></text>
<text x="355.2" y="164.8" font-size="8.7" text-anchor="end" fill="#111" font-family="Liberation Sans, sans-serif"><tspan font-style="italic">Sin3B</tspan><tspan font-style="italic" font-size="6.4" dy="-3.2">CKO</tspan><tspan dy="3.2">&lt;Ctrl</tspan></text>
<text transform="translate(202.9,111.4) rotate(-90)" font-size="10.2" text-anchor="middle" textLength="72.5" lengthAdjust="spacingAndGlyphs" fill="#111" font-family="Liberation Sans, sans-serif">Enrichment score</text>
<text x="447.6" y="53.9" font-size="10.5" text-anchor="middle" fill="#111" font-family="Liberation Sans, sans-serif">Hematopoietic Stem Cell</text>
<text x="447.6" y="66.3" font-size="10.5" text-anchor="middle" fill="#111" font-family="Liberation Sans, sans-serif">(Ivanova)</text>
<rect x="383.6" y="71.8" width="128.10" height="79.20" fill="#fff"/>
<rect x="383.6" y="128.40" width="121.40" height="18.40" fill="#e2e2e2"/>
<g shape-rendering="crispEdges">
<rect x="384" y="128.40" width="1" height="18.40" fill="#777"/>
<rect x="389" y="128.40" width="2" height="18.40" fill="#777"/>
<rect x="392" y="128.40" width="1" height="18.40" fill="#c4c4c4"/>
<rect x="395" y="128.40" width="2" height="18.40" fill="#b0b0b0"/>
<rect x="397" y="128.40" width="1" height="18.40" fill="#888"/>
<rect x="398" y="128.40" width="2" height="18.40" fill="#9a9a9a"/>
<rect x="401" y="128.40" width="2" height="18.40" fill="#222"/>
<rect x="403" y="128.40" width="2" height="18.40" fill="#444"/>
<rect x="405" y="128.40" width="1" height="18.40" fill="#b0b0b0"/>
<rect x="406" y="128.40" width="2" height="18.40" fill="#777"/>
<rect x="408" y="128.40" width="1" height="18.40" fill="#9a9a9a"/>
<rect x="409" y="128.40" width="1" height="18.40" fill="#9a9a9a"/>
<rect x="410" y="128.40" width="1" height="18.40" fill="#777"/>
<rect x="411" y="128.40" width="2" height="18.40" fill="#777"/>
<rect x="413" y="128.40" width="1" height="18.40" fill="#b0b0b0"/>
<rect x="414" y="128.40" width="1" height="18.40" fill="#888"/>
<rect x="415" y="128.40" width="1" height="18.40" fill="#c4c4c4"/>
<rect x="419" y="128.40" width="2" height="18.40" fill="#777"/>
<rect x="422" y="128.40" width="1" height="18.40" fill="#9a9a9a"/>
<rect x="424" y="128.40" width="2" height="18.40" fill="#c4c4c4"/>
<rect x="426" y="128.40" width="2" height="18.40" fill="#777"/>
<rect x="430" y="128.40" width="1" height="18.40" fill="#c4c4c4"/>
<rect x="431" y="128.40" width="1" height="18.40" fill="#9a9a9a"/>
<rect x="434" y="128.40" width="2" height="18.40" fill="#c4c4c4"/>
<rect x="436" y="128.40" width="1" height="18.40" fill="#444"/>
<rect x="439" y="128.40" width="2" height="18.40" fill="#777"/>
<rect x="442" y="128.40" width="2" height="18.40" fill="#888"/>
<rect x="444" y="128.40" width="2" height="18.40" fill="#777"/>
<rect x="446" y="128.40" width="1" height="18.40" fill="#888"/>
<rect x="447" y="128.40" width="1" height="18.40" fill="#9a9a9a"/>
<rect x="448" y="128.40" width="1" height="18.40" fill="#333"/>
<rect x="450" y="128.40" width="1" height="18.40" fill="#c4c4c4"/>
<rect x="451" y="128.40" width="1" height="18.40" fill="#c4c4c4"/>
<rect x="453" y="128.40" width="2" height="18.40" fill="#9a9a9a"/>
<rect x="455" y="128.40" width="1" height="18.40" fill="#444"/>
<rect x="457" y="128.40" width="2" height="18.40" fill="#888"/>
<rect x="461" y="128.40" width="1" height="18.40" fill="#888"/>
<rect x="463" y="128.40" width="1" height="18.40" fill="#9a9a9a"/>
<rect x="464" y="128.40" width="1" height="18.40" fill="#888"/>
<rect x="465" y="128.40" width="2" height="18.40" fill="#777"/>
<rect x="467" y="128.40" width="1" height="18.40" fill="#b0b0b0"/>
<rect x="468" y="128.40" width="1" height="18.40" fill="#888"/>
<rect x="469" y="128.40" width="2" height="18.40" fill="#b0b0b0"/>
<rect x="471" y="128.40" width="1" height="18.40" fill="#111"/>
<rect x="472" y="128.40" width="1" height="18.40" fill="#444"/>
<rect x="473" y="128.40" width="1" height="18.40" fill="#444"/>
<rect x="474" y="128.40" width="1" height="18.40" fill="#222"/>
<rect x="475" y="128.40" width="1" height="18.40" fill="#444"/>
<rect x="477" y="128.40" width="1" height="18.40" fill="#c4c4c4"/>
<rect x="479" y="128.40" width="1" height="18.40" fill="#9a9a9a"/>
<rect x="482" y="128.40" width="1" height="18.40" fill="#b0b0b0"/>
<rect x="483" y="128.40" width="1" height="18.40" fill="#444"/>
<rect x="485" y="128.40" width="1" height="18.40" fill="#c4c4c4"/>
<rect x="487" y="128.40" width="2" height="18.40" fill="#c4c4c4"/>
<rect x="489" y="128.40" width="2" height="18.40" fill="#b0b0b0"/>
<rect x="491" y="128.40" width="1" height="18.40" fill="#888"/>
<rect x="492" y="128.40" width="2" height="18.40" fill="#333"/>
<rect x="494" y="128.40" width="2" height="18.40" fill="#333"/>
<rect x="496" y="128.40" width="1" height="18.40" fill="#777"/>
<rect x="497" y="128.40" width="1" height="18.40" fill="#444"/>
<rect x="498" y="128.40" width="1" height="18.40" fill="#222"/>
<rect x="499" y="128.40" width="1" height="18.40" fill="#444"/>
<rect x="500" y="128.40" width="1" height="18.40" fill="#9a9a9a"/>
<rect x="501" y="128.40" width="1" height="18.40" fill="#888"/>
<rect x="502" y="128.40" width="1" height="18.40" fill="#333"/>
<rect x="503" y="128.40" width="2" height="18.40" fill="#333"/>
</g>
<defs><linearGradient id="cs2" x1="0" x2="1"><stop offset="0.000" stop-color="#dc2a3c"/><stop offset="0.341" stop-color="#e04a5c"/><stop offset="0.465" stop-color="#eea4b4"/><stop offset="0.547" stop-color="#f6f0f4"/><stop offset="0.679" stop-color="#e0def0"/><stop offset="0.745" stop-color="#6a66b0"/><stop offset="0.992" stop-color="#3a3892"/></linearGradient></defs>
<rect x="383.6" y="146.80" width="121.40" height="4.20" fill="url(#cs2)"/>
<line x1="383.6" y1="128.40" x2="511.7" y2="128.40" stroke="#777" stroke-width="0.9"/>
<line x1="383.6" y1="75.00" x2="511.7" y2="75.00" stroke="#aaa" stroke-width="0.8"/>
<polyline points="384.20,75.20 385.02,76.16 385.84,77.63 386.66,78.48 387.48,79.93 388.30,79.37 389.04,80.08 389.78,80.54 390.52,80.88 391.26,81.60 392.00,82.60 392.76,83.25 393.52,83.26 394.28,84.49 395.04,84.54 395.80,83.90 396.54,86.23 397.28,86.55 398.02,86.73 398.76,87.94 399.50,88.88 400.33,89.50 401.17,89.40 402.00,90.45 402.83,89.93 403.67,92.30 404.50,91.72 405.26,92.40 406.02,93.19 406.78,94.00 407.54,94.30 408.30,95.28 409.13,93.82 409.97,94.77 410.80,95.43 411.63,95.77 412.47,97.71 413.30,96.96 414.13,97.25 414.97,96.33 415.80,97.38 416.63,96.77 417.47,96.98 418.30,99.71 419.13,99.76 419.97,99.22 420.80,99.06 421.63,97.68 422.47,97.23 423.30,98.17 424.13,97.62 424.97,98.87 425.80,98.45 426.63,99.58 427.47,99.39 428.30,101.79 429.04,102.79 429.78,102.32 430.52,101.20 431.26,101.70 432.00,102.77 432.76,103.06 433.52,104.59 434.28,106.34 435.04,106.79 435.80,107.06 436.54,108.28 437.28,108.31 438.02,109.48 438.76,109.40 439.50,111.15 440.26,110.56 441.02,109.72 441.78,110.31 442.54,110.17 443.30,109.95 444.13,110.08 444.97,110.75 445.80,108.90 446.63,110.58 447.47,111.91 448.30,113.15 449.04,114.49 449.78,113.74 450.52,115.15 451.26,115.43 452.00,116.09 452.76,116.65 453.52,117.20 454.28,117.68 455.04,119.03 455.80,121.49 456.54,122.08 457.28,122.47 458.02,122.67 458.76,122.17 459.50,123.00 460.33,124.77 461.17,123.59 462.00,124.96 462.65,124.50 463.30,123.20 464.50,119.75 465.26,119.88 466.02,119.40 466.78,118.90 467.54,118.40 468.30,117.39 469.04,117.15 469.78,116.32 470.52,115.81 471.26,114.75 472.00,114.94 472.76,115.22 473.52,113.79 474.28,113.05 475.04,112.66 475.80,111.67 476.63,111.38 477.47,110.30 478.30,108.18 479.04,107.33 479.78,108.16 480.52,108.43 481.26,108.84 482.00,108.26 482.76,107.95 483.52,106.30 484.28,107.74 485.04,106.62 485.80,107.55 486.54,105.95 487.28,105.28 488.02,105.39 488.76,104.80 489.50,104.08 490.33,103.96 491.17,103.16 492.00,101.94 492.76,100.10 493.52,98.12 494.28,96.75 495.04,95.39 495.80,94.48 496.63,93.65 497.47,91.68 498.30,89.35 499.13,87.46 499.97,87.20 500.80,85.41 501.63,83.73 502.47,82.10 503.30,80.70 504.15,78.63 505.00,76.30 505.80,74.80" fill="none" stroke="#72a630" stroke-width="1.45" stroke-linejoin="round"/>
<rect x="383.6" y="71.8" width="128.10" height="79.20" fill="none" stroke="#111" stroke-width="1.5"/>
<text x="432" y="89.0" font-size="8.3" fill="#111" font-family="Liberation Sans, sans-serif">NES: -3.36</text>
<text x="432" y="99.3" font-size="8.3" fill="#111" font-family="Liberation Sans, sans-serif">FWER: 0.001</text>
<text x="380.4" y="78.3" font-size="8.8" text-anchor="end" fill="#111" font-family="Liberation Sans, sans-serif">0</text>
<text x="380.4" y="99.8" font-size="8.8" text-anchor="end" fill="#111" font-family="Liberation Sans, sans-serif">-0.1</text>
<text x="380.4" y="120.4" font-size="8.8" text-anchor="end" fill="#111" font-family="Liberation Sans, sans-serif">-0.2</text>
<text x="382.8" y="164.8" font-size="8.7" fill="#111" font-family="Liberation Sans, sans-serif"><tspan font-style="italic">Sin3B</tspan><tspan font-style="italic" font-size="6.4" dy="-3.2">CKO</tspan><tspan dy="3.2">&gt;Ctrl</tspan></text>
<text x="512.9" y="164.8" font-size="8.7" text-anchor="end" fill="#111" font-family="Liberation Sans, sans-serif"><tspan font-style="italic">Sin3B</tspan><tspan font-style="italic" font-size="6.4" dy="-3.2">CKO</tspan><tspan dy="3.2">&lt;Ctrl</tspan></text>
<text x="290.9" y="193.1" font-size="10.5" text-anchor="middle" fill="#111" font-family="Liberation Sans, sans-serif">Quiescent vs. Dividing_DN</text>
<text x="290.9" y="205.5" font-size="10.5" text-anchor="middle" fill="#111" font-family="Liberation Sans, sans-serif">(Graham)</text>
<rect x="226.9" y="211.5" width="127.90" height="79.70" fill="#fff"/>
<g shape-rendering="crispEdges">
<rect x="228" y="267.20" width="1.5" height="20.00" fill="#999"/>
<rect x="232" y="267.20" width="1.5" height="20.00" fill="#999"/>
<rect x="235.5" y="267.20" width="1.6" height="20.00" fill="#222"/>
<rect x="237.5" y="267.20" width="2" height="20.00" fill="#888"/>
<rect x="240.5" y="267.20" width="1" height="20.00" fill="#aaa"/>
<rect x="242.5" y="267.20" width="1" height="20.00" fill="#999"/>
<rect x="244" y="267.20" width="1.5" height="20.00" fill="#888"/>
<rect x="245.8" y="267.20" width="1.6" height="20.00" fill="#222"/>
<rect x="248" y="267.20" width="1" height="20.00" fill="#aaa"/>
<rect x="250" y="267.20" width="1" height="20.00" fill="#999"/>
<rect x="251.4" y="267.20" width="1.2" height="20.00" fill="#222"/>
<rect x="253" y="267.20" width="1.5" height="20.00" fill="#888"/>
<rect x="254.6" y="267.20" width="1.2" height="20.00" fill="#222"/>
<rect x="263.5" y="267.20" width="2" height="20.00" fill="#999"/>
<rect x="270" y="267.20" width="2.5" height="20.00" fill="#555"/>
<rect x="275" y="267.20" width="2" height="20.00" fill="#999"/>
<rect x="280" y="267.20" width="1" height="20.00" fill="#aaa"/>
<rect x="284" y="267.20" width="2" height="20.00" fill="#999"/>
<rect x="288" y="267.20" width="1" height="20.00" fill="#999"/>
<rect x="290.5" y="267.20" width="1" height="20.00" fill="#999"/>
<rect x="293.5" y="267.20" width="1" height="20.00" fill="#999"/>
<rect x="299.2" y="267.20" width="1.5" height="20.00" fill="#999"/>
<rect x="305.8" y="267.20" width="1.5" height="20.00" fill="#999"/>
<rect x="307.5" y="267.20" width="1.4" height="20.00" fill="#777"/>
<rect x="311" y="267.20" width="1" height="20.00" fill="#999"/>
<rect x="315" y="267.20" width="1.5" height="20.00" fill="#999"/>
<rect x="319.5" y="267.20" width="1" height="20.00" fill="#999"/>
<rect x="322.8" y="267.20" width="1" height="20.00" fill="#888"/>
<rect x="338.5" y="267.20" width="1" height="20.00" fill="#999"/>
</g>
<defs><linearGradient id="cs3" x1="0" x2="1"><stop offset="0.000" stop-color="#dc2a3c"/><stop offset="0.339" stop-color="#e04a5c"/><stop offset="0.438" stop-color="#eea4b4"/><stop offset="0.521" stop-color="#f6f0f4"/><stop offset="0.620" stop-color="#e0def0"/><stop offset="0.777" stop-color="#6a66b0"/><stop offset="0.992" stop-color="#3a3892"/></linearGradient></defs>
<rect x="226.9" y="287.20" width="121.10" height="4.00" fill="url(#cs3)"/>
<line x1="226.9" y1="267.20" x2="354.8" y2="267.20" stroke="#777" stroke-width="0.9"/>
<line x1="226.9" y1="265.20" x2="354.8" y2="265.20" stroke="#aaa" stroke-width="0.8"/>
<polyline points="227.00,256.80 227.75,255.15 228.50,253.33 229.25,254.07 230.00,253.43 230.75,253.01 231.50,254.46 232.33,254.36 233.17,254.34 234.00,255.15 234.65,252.52 235.30,248.73 236.50,238.87 237.15,234.60 237.80,231.34 238.63,230.36 239.47,228.74 240.30,227.70 241.13,227.27 241.97,227.36 242.80,227.27 243.63,226.94 244.47,226.89 245.30,225.56 246.13,225.62 246.97,225.71 247.80,225.98 248.63,224.69 249.47,224.15 250.30,222.70 251.50,219.22 252.33,217.67 253.17,216.43 254.00,216.80 254.90,213.30 255.80,212.76 256.80,214.13 257.80,214.82 258.63,216.27 259.47,217.57 260.30,219.15 261.04,218.85 261.78,218.57 262.52,218.59 263.26,218.48 264.00,219.35 264.76,219.11 265.52,220.51 266.28,218.98 267.04,218.80 267.80,218.90 268.54,218.40 269.28,220.14 270.02,217.43 270.76,217.41 271.50,216.98 272.33,218.93 273.17,217.16 274.00,218.71 274.76,218.43 275.52,218.92 276.28,218.95 277.04,220.20 277.80,219.65 278.54,220.47 279.28,221.49 280.02,223.47 280.76,221.38 281.50,223.61 282.26,224.59 283.02,224.21 283.78,224.86 284.54,224.83 285.30,226.72 286.04,226.10 286.78,225.31 287.52,224.76 288.26,224.37 289.00,224.06 289.76,223.71 290.52,225.97 291.28,224.14 292.04,223.66 292.80,224.52 293.54,225.34 294.28,226.44 295.02,226.80 295.76,227.27 296.50,228.14 297.33,229.49 298.17,229.38 299.00,229.66 299.83,231.96 300.67,232.37 301.50,231.67 302.33,233.82 303.17,234.13 304.00,233.40 304.83,232.72 305.67,233.71 306.50,233.54 307.33,233.45 308.17,233.53 309.00,234.27 309.83,236.15 310.67,236.14 311.50,235.50 312.33,237.04 313.17,237.59 314.00,238.70 314.83,239.79 315.67,239.47 316.50,239.51 317.33,239.80 318.17,239.27 319.00,240.61 319.83,242.10 320.67,242.14 321.50,242.03 322.33,242.33 323.17,242.36 324.00,242.64 324.83,243.39 325.67,243.73 326.50,244.51 327.33,244.53 328.17,246.17 329.00,247.11 329.83,246.95 330.67,247.07 331.50,248.41 332.33,250.53 333.17,250.60 334.00,251.21 334.83,251.85 335.67,253.56 336.50,253.62 337.33,255.55 338.17,255.95 339.00,257.53 339.83,258.06 340.67,258.52 341.50,258.15 342.33,258.95 343.17,260.11 344.00,261.85 344.83,262.86 345.67,263.03 346.50,264.30 347.15,264.75 347.80,265.20" fill="none" stroke="#72a630" stroke-width="1.45" stroke-linejoin="round"/>
<rect x="226.9" y="211.5" width="127.90" height="79.70" fill="none" stroke="#111" stroke-width="1.5"/>
<text x="248.8" y="242.1" font-size="8.3" fill="#111" font-family="Liberation Sans, sans-serif">NES: 4.17</text>
<text x="248.8" y="252.4" font-size="8.3" fill="#111" font-family="Liberation Sans, sans-serif">FWER &lt; 0.0001</text>
<text x="223.7" y="218.3" font-size="8.8" text-anchor="end" fill="#111" font-family="Liberation Sans, sans-serif">0.4</text>
<text x="223.7" y="243.1" font-size="8.8" text-anchor="end" fill="#111" font-family="Liberation Sans, sans-serif">0.2</text>
<text x="223.7" y="267.4" font-size="8.8" text-anchor="end" fill="#111" font-family="Liberation Sans, sans-serif">0</text>
<text x="226.1" y="305.0" font-size="8.7" fill="#111" font-family="Liberation Sans, sans-serif"><tspan font-style="italic">Sin3B</tspan><tspan font-style="italic" font-size="6.4" dy="-3.2">CKO</tspan><tspan dy="3.2">&gt;Ctrl</tspan></text>
<text x="356.0" y="305.0" font-size="8.7" text-anchor="end" fill="#111" font-family="Liberation Sans, sans-serif"><tspan font-style="italic">Sin3B</tspan><tspan font-style="italic" font-size="6.4" dy="-3.2">CKO</tspan><tspan dy="3.2">&lt;Ctrl</tspan></text>
<text transform="translate(205.5,251.3) rotate(-90)" font-size="10.2" text-anchor="middle" textLength="72.5" lengthAdjust="spacingAndGlyphs" fill="#111" font-family="Liberation Sans, sans-serif">Enrichment score</text>
<text x="446.9" y="193.1" font-size="10.5" text-anchor="middle" fill="#111" font-family="Liberation Sans, sans-serif">G1-S Transition</text>
<text x="446.9" y="205.5" font-size="10.5" text-anchor="middle" fill="#111" font-family="Liberation Sans, sans-serif">(Reactome)</text>
<rect x="383.7" y="211.6" width="126.30" height="79.80" fill="#fff"/>
<g shape-rendering="crispEdges">
<rect x="385.6" y="267.80" width="1" height="19.60" fill="#555"/>
<rect x="387" y="267.80" width="1" height="19.60" fill="#222"/>
<rect x="389.3" y="267.80" width="1" height="19.60" fill="#aaa"/>
<rect x="390.6" y="267.80" width="3.4" height="19.60" fill="#151515"/>
<rect x="394" y="267.80" width="2" height="19.60" fill="#555"/>
<rect x="396" y="267.80" width="1.5" height="19.60" fill="#888"/>
<rect x="397.8" y="267.80" width="1.2" height="19.60" fill="#aaa"/>
<rect x="402" y="267.80" width="1" height="19.60" fill="#999"/>
<rect x="404" y="267.80" width="1" height="19.60" fill="#aaa"/>
<rect x="406" y="267.80" width="1" height="19.60" fill="#999"/>
<rect x="408.3" y="267.80" width="1.4" height="19.60" fill="#333"/>
<rect x="411.5" y="267.80" width="1" height="19.60" fill="#bbb"/>
<rect x="413.5" y="267.80" width="1" height="19.60" fill="#aaa"/>
<rect x="416" y="267.80" width="1" height="19.60" fill="#bbb"/>
<rect x="418.5" y="267.80" width="1" height="19.60" fill="#aaa"/>
<rect x="421" y="267.80" width="1.5" height="19.60" fill="#999"/>
<rect x="423.5" y="267.80" width="1" height="19.60" fill="#888"/>
<rect x="425.5" y="267.80" width="1" height="19.60" fill="#999"/>
<rect x="428" y="267.80" width="1" height="19.60" fill="#aaa"/>
<rect x="430.5" y="267.80" width="1" height="19.60" fill="#999"/>
<rect x="433" y="267.80" width="1" height="19.60" fill="#aaa"/>
<rect x="438.5" y="267.80" width="1.2" height="19.60" fill="#444"/>
<rect x="440.5" y="267.80" width="1" height="19.60" fill="#666"/>
<rect x="444.3" y="267.80" width="1" height="19.60" fill="#aaa"/>
<rect x="456.8" y="267.80" width="1.2" height="19.60" fill="#888"/>
<rect x="462" y="267.80" width="1" height="19.60" fill="#888"/>
<rect x="464" y="267.80" width="1" height="19.60" fill="#666"/>
<rect x="467.5" y="267.80" width="1" height="19.60" fill="#999"/>
<rect x="479" y="267.80" width="1" height="19.60" fill="#888"/>
<rect x="484.5" y="267.80" width="1.5" height="19.60" fill="#aaa"/>
<rect x="486.5" y="267.80" width="1.5" height="19.60" fill="#999"/>
<rect x="501.7" y="267.80" width="1" height="19.60" fill="#888"/>
</g>
<defs><linearGradient id="cs4" x1="0" x2="1"><stop offset="0.000" stop-color="#dc2a3c"/><stop offset="0.371" stop-color="#e04a5c"/><stop offset="0.472" stop-color="#eea4b4"/><stop offset="0.573" stop-color="#f6f0f4"/><stop offset="0.690" stop-color="#e0def0"/><stop offset="0.757" stop-color="#6a66b0"/><stop offset="0.992" stop-color="#3a3892"/></linearGradient></defs>
<rect x="383.7" y="287.40" width="119.30" height="4.00" fill="url(#cs4)"/>
<line x1="383.7" y1="267.80" x2="510.0" y2="267.80" stroke="#777" stroke-width="0.9"/>
<line x1="383.7" y1="264.80" x2="510.0" y2="264.80" stroke="#aaa" stroke-width="0.8"/>
<polyline points="384.00,264.30 384.75,262.73 385.50,261.00 386.25,259.77 387.00,258.85 387.83,256.30 388.67,254.60 389.50,250.67 390.33,247.75 391.17,244.22 392.00,240.91 392.83,238.23 393.67,235.76 394.50,233.24 395.33,231.87 396.17,231.27 397.00,229.57 397.83,226.59 398.67,225.94 399.50,224.47 400.26,223.89 401.02,224.86 401.78,223.98 402.54,221.94 403.30,222.45 404.04,221.86 404.78,220.56 405.52,219.78 406.26,219.32 407.00,219.28 408.00,217.01 409.00,215.15 409.75,216.48 410.50,214.96 411.25,213.99 412.00,213.76 412.76,215.12 413.52,214.53 414.28,216.03 415.04,214.77 415.80,214.40 416.54,215.11 417.28,214.97 418.02,215.21 418.76,216.31 419.50,217.25 420.26,217.28 421.02,217.05 421.78,218.28 422.54,218.26 423.30,217.81 424.04,218.74 424.78,217.61 425.52,217.88 426.26,218.47 427.00,218.31 427.76,217.97 428.52,218.64 429.28,218.41 430.04,218.36 430.80,218.11 431.54,219.93 432.28,219.55 433.02,220.82 433.76,221.00 434.50,220.70 435.26,220.90 436.02,220.59 436.78,220.20 437.54,218.67 438.30,218.88 439.04,219.52 439.78,219.44 440.52,219.68 441.26,219.86 442.00,219.21 442.83,218.77 443.67,216.00 444.50,215.13 445.33,214.33 446.17,216.14 447.00,216.75 447.76,219.12 448.52,219.24 449.28,218.42 450.04,221.06 450.80,220.87 451.54,221.02 452.28,222.30 453.02,223.98 453.76,224.33 454.50,225.41 455.26,224.45 456.02,227.03 456.78,227.24 457.54,227.73 458.30,228.59 459.04,228.96 459.78,229.41 460.52,228.99 461.26,229.63 462.00,230.64 462.83,230.75 463.67,229.57 464.50,228.80 465.26,229.59 466.02,230.52 466.78,231.03 467.54,231.24 468.30,231.45 469.04,233.24 469.78,233.90 470.52,234.38 471.26,236.36 472.00,237.09 472.83,237.89 473.67,238.14 474.50,237.73 475.33,239.59 476.17,240.01 477.00,240.73 477.83,242.28 478.67,243.50 479.50,243.93 480.33,244.36 481.17,246.27 482.00,246.84 482.83,245.83 483.67,246.89 484.50,247.18 485.33,247.43 486.17,248.27 487.00,248.57 487.76,250.10 488.52,250.04 489.28,250.28 490.04,251.36 490.80,250.79 491.54,252.47 492.28,252.99 493.02,254.71 493.76,254.49 494.50,255.83 495.26,255.40 496.02,256.54 496.78,257.99 497.54,259.61 498.30,262.10 499.04,262.86 499.78,261.83 500.52,262.07 501.26,264.15 502.00,264.30 502.65,264.65 503.30,265.00" fill="none" stroke="#72a630" stroke-width="1.45" stroke-linejoin="round"/>
<rect x="383.7" y="211.6" width="126.30" height="79.80" fill="none" stroke="#111" stroke-width="1.5"/>
<text x="412" y="242.3" font-size="8.3" fill="#111" font-family="Liberation Sans, sans-serif">NES: 4.01</text>
<text x="412" y="252.6" font-size="8.3" fill="#111" font-family="Liberation Sans, sans-serif">FWER &lt; 0.0001</text>
<text x="380.5" y="223.9" font-size="8.8" text-anchor="end" fill="#111" font-family="Liberation Sans, sans-serif">0.3</text>
<text x="380.5" y="239.1" font-size="8.8" text-anchor="end" fill="#111" font-family="Liberation Sans, sans-serif">0.2</text>
<text x="380.5" y="253.1" font-size="8.8" text-anchor="end" fill="#111" font-family="Liberation Sans, sans-serif">0.1</text>
<text x="380.5" y="267.7" font-size="8.8" text-anchor="end" fill="#111" font-family="Liberation Sans, sans-serif">0</text>
<text x="382.9" y="305.2" font-size="8.7" fill="#111" font-family="Liberation Sans, sans-serif"><tspan font-style="italic">Sin3B</tspan><tspan font-style="italic" font-size="6.4" dy="-3.2">CKO</tspan><tspan dy="3.2">&gt;Ctrl</tspan></text>
<text x="511.2" y="305.2" font-size="8.7" text-anchor="end" fill="#111" font-family="Liberation Sans, sans-serif"><tspan font-style="italic">Sin3B</tspan><tspan font-style="italic" font-size="6.4" dy="-3.2">CKO</tspan><tspan dy="3.2">&lt;Ctrl</tspan></text>
<text x="290.8" y="333.1" font-size="10.5" text-anchor="middle" fill="#111" font-family="Liberation Sans, sans-serif">E2F Targets</text>
<text x="290.8" y="345.5" font-size="10.5" text-anchor="middle" fill="#111" font-family="Liberation Sans, sans-serif">(Reactome)</text>
<rect x="226.3" y="351.3" width="129.00" height="79.90" fill="#fff"/>
<g shape-rendering="crispEdges">
<rect x="227" y="407.00" width="1" height="19.80" fill="#111"/>
<rect x="229" y="407.00" width="2" height="19.80" fill="#222"/>
<rect x="231" y="407.00" width="1" height="19.80" fill="#222"/>
<rect x="232" y="407.00" width="2" height="19.80" fill="#222"/>
<rect x="234" y="407.00" width="2" height="19.80" fill="#888"/>
<rect x="236" y="407.00" width="1" height="19.80" fill="#b0b0b0"/>
<rect x="237" y="407.00" width="1" height="19.80" fill="#888"/>
<rect x="238" y="407.00" width="1" height="19.80" fill="#777"/>
<rect x="239" y="407.00" width="1" height="19.80" fill="#444"/>
<rect x="240" y="407.00" width="1" height="19.80" fill="#888"/>
<rect x="241" y="407.00" width="1" height="19.80" fill="#c4c4c4"/>
<rect x="242" y="407.00" width="1" height="19.80" fill="#111"/>
<rect x="243" y="407.00" width="2" height="19.80" fill="#111"/>
<rect x="245" y="407.00" width="2" height="19.80" fill="#111"/>
<rect x="247" y="407.00" width="1" height="19.80" fill="#9a9a9a"/>
<rect x="248" y="407.00" width="1" height="19.80" fill="#9a9a9a"/>
<rect x="249" y="407.00" width="1" height="19.80" fill="#333"/>
<rect x="250" y="407.00" width="1" height="19.80" fill="#b0b0b0"/>
<rect x="251" y="407.00" width="2" height="19.80" fill="#9a9a9a"/>
<rect x="253" y="407.00" width="1" height="19.80" fill="#888"/>
<rect x="254" y="407.00" width="1" height="19.80" fill="#c4c4c4"/>
<rect x="255" y="407.00" width="1" height="19.80" fill="#333"/>
<rect x="257" y="407.00" width="2" height="19.80" fill="#c4c4c4"/>
<rect x="259" y="407.00" width="2" height="19.80" fill="#9a9a9a"/>
<rect x="262" y="407.00" width="2" height="19.80" fill="#333"/>
<rect x="264" y="407.00" width="1" height="19.80" fill="#c4c4c4"/>
<rect x="265" y="407.00" width="2" height="19.80" fill="#777"/>
<rect x="267" y="407.00" width="1" height="19.80" fill="#777"/>
<rect x="269" y="407.00" width="1" height="19.80" fill="#c4c4c4"/>
<rect x="274" y="407.00" width="1" height="19.80" fill="#c4c4c4"/>
<rect x="276" y="407.00" width="1" height="19.80" fill="#333"/>
<rect x="278" y="407.00" width="1" height="19.80" fill="#c4c4c4"/>
<rect x="279" y="407.00" width="1" height="19.80" fill="#111"/>
<rect x="280" y="407.00" width="1" height="19.80" fill="#444"/>
<rect x="283" y="407.00" width="1" height="19.80" fill="#777"/>
<rect x="284" y="407.00" width="1" height="19.80" fill="#333"/>
<rect x="288" y="407.00" width="1" height="19.80" fill="#222"/>
<rect x="289" y="407.00" width="1" height="19.80" fill="#9a9a9a"/>
<rect x="290" y="407.00" width="1" height="19.80" fill="#c4c4c4"/>
<rect x="291" y="407.00" width="1" height="19.80" fill="#222"/>
<rect x="293" y="407.00" width="1" height="19.80" fill="#777"/>
<rect x="294" y="407.00" width="1" height="19.80" fill="#9a9a9a"/>
<rect x="295" y="407.00" width="2" height="19.80" fill="#9a9a9a"/>
<rect x="297" y="407.00" width="1" height="19.80" fill="#c4c4c4"/>
<rect x="298" y="407.00" width="1" height="19.80" fill="#777"/>
<rect x="299" y="407.00" width="1" height="19.80" fill="#888"/>
<rect x="301" y="407.00" width="1" height="19.80" fill="#777"/>
<rect x="302" y="407.00" width="1" height="19.80" fill="#444"/>
<rect x="303" y="407.00" width="1" height="19.80" fill="#888"/>
<rect x="304" y="407.00" width="1" height="19.80" fill="#777"/>
<rect x="305" y="407.00" width="1" height="19.80" fill="#888"/>
<rect x="306" y="407.00" width="1" height="19.80" fill="#888"/>
<rect x="308" y="407.00" width="2" height="19.80" fill="#222"/>
<rect x="310" y="407.00" width="1" height="19.80" fill="#b0b0b0"/>
<rect x="312" y="407.00" width="1" height="19.80" fill="#444"/>
<rect x="313" y="407.00" width="1" height="19.80" fill="#222"/>
<rect x="314" y="407.00" width="1" height="19.80" fill="#9a9a9a"/>
<rect x="316" y="407.00" width="1" height="19.80" fill="#b0b0b0"/>
<rect x="317" y="407.00" width="2" height="19.80" fill="#777"/>
<rect x="319" y="407.00" width="1" height="19.80" fill="#444"/>
<rect x="323" y="407.00" width="1" height="19.80" fill="#b0b0b0"/>
<rect x="324" y="407.00" width="1" height="19.80" fill="#444"/>
<rect x="325" y="407.00" width="2" height="19.80" fill="#222"/>
<rect x="327" y="407.00" width="1" height="19.80" fill="#9a9a9a"/>
<rect x="328" y="407.00" width="1" height="19.80" fill="#9a9a9a"/>
<rect x="329" y="407.00" width="1" height="19.80" fill="#333"/>
<rect x="330" y="407.00" width="1" height="19.80" fill="#c4c4c4"/>
<rect x="331" y="407.00" width="2" height="19.80" fill="#9a9a9a"/>
<rect x="333" y="407.00" width="1" height="19.80" fill="#444"/>
<rect x="335" y="407.00" width="1" height="19.80" fill="#c4c4c4"/>
<rect x="338" y="407.00" width="1" height="19.80" fill="#777"/>
<rect x="342" y="407.00" width="2" height="19.80" fill="#444"/>
<rect x="344" y="407.00" width="1" height="19.80" fill="#333"/>
<rect x="346" y="407.00" width="2" height="19.80" fill="#b0b0b0"/>
<rect x="348" y="407.00" width="2" height="19.80" fill="#888"/>
</g>
<defs><linearGradient id="cs5" x1="0" x2="1"><stop offset="0.000" stop-color="#dc2a3c"/><stop offset="0.340" stop-color="#e04a5c"/><stop offset="0.454" stop-color="#eea4b4"/><stop offset="0.560" stop-color="#f6f0f4"/><stop offset="0.666" stop-color="#e0def0"/><stop offset="0.731" stop-color="#6a66b0"/><stop offset="0.992" stop-color="#3a3892"/></linearGradient></defs>
<rect x="226.3" y="426.80" width="122.70" height="4.40" fill="url(#cs5)"/>
<line x1="226.3" y1="407.00" x2="355.3" y2="407.00" stroke="#777" stroke-width="0.9"/>
<line x1="226.3" y1="404.60" x2="355.3" y2="404.60" stroke="#aaa" stroke-width="0.8"/>
<polyline points="227.00,399.30 228.00,396.15 229.00,392.75 229.83,388.90 230.67,387.01 231.50,383.90 232.33,383.00 233.17,380.66 234.00,379.17 234.83,376.58 235.67,375.12 236.50,373.02 237.33,371.59 238.17,371.13 239.00,369.38 239.83,368.77 240.67,368.90 241.50,368.08 242.33,366.05 243.17,366.26 244.00,363.92 244.83,361.81 245.67,360.68 246.50,358.96 247.33,358.37 248.17,357.88 249.00,359.32 249.76,358.50 250.52,358.07 251.28,358.12 252.04,358.64 252.80,357.50 253.54,356.93 254.28,358.88 255.02,357.23 255.76,357.31 256.50,358.28 257.26,359.36 258.02,357.64 258.78,355.68 259.54,356.69 260.30,356.19 261.04,355.49 261.78,355.49 262.52,355.01 263.26,354.50 264.00,353.34 264.76,354.60 265.52,355.42 266.28,354.89 267.04,354.28 267.80,354.96 268.54,355.05 269.28,353.88 270.02,353.70 270.76,354.81 271.50,354.50 272.26,354.39 273.02,354.87 273.78,355.04 274.54,355.27 275.30,353.96 276.04,356.55 276.78,356.96 277.52,356.55 278.26,358.04 279.00,358.54 279.76,358.31 280.52,359.01 281.28,359.60 282.04,359.32 282.80,359.60 283.54,360.00 284.28,358.86 285.02,358.82 285.76,360.01 286.50,358.86 287.26,359.26 288.02,360.77 288.78,361.45 289.54,361.50 290.30,359.59 291.04,362.14 291.78,362.22 292.52,362.55 293.26,362.64 294.00,361.03 294.76,360.73 295.52,361.20 296.28,363.95 297.04,363.50 297.80,363.94 298.54,364.14 299.28,365.02 300.02,365.55 300.76,365.77 301.50,364.77 302.33,364.23 303.17,365.42 304.00,366.30 304.83,367.71 305.67,367.57 306.50,367.23 307.26,367.78 308.02,366.56 308.78,366.34 309.54,366.30 310.30,367.35 311.04,370.08 311.78,370.85 312.52,371.88 313.26,372.11 314.00,372.61 314.83,372.30 315.67,372.46 316.50,371.45 317.33,371.87 318.17,372.28 319.00,374.09 319.83,375.13 320.67,376.27 321.50,377.15 322.33,376.60 323.17,377.58 324.00,378.40 324.76,378.41 325.52,379.63 326.28,379.63 327.04,378.81 327.80,380.07 328.54,380.11 329.28,381.10 330.02,381.41 330.76,382.43 331.50,381.40 332.26,384.79 333.02,386.52 333.78,386.56 334.54,386.58 335.30,387.77 336.04,389.41 336.78,390.57 337.52,391.63 338.26,390.77 339.00,391.42 339.76,394.21 340.52,395.31 341.28,394.95 342.04,395.73 342.80,396.40 343.54,397.40 344.28,400.07 345.02,400.86 345.76,402.83 346.50,403.00 347.50,404.00 348.50,405.00" fill="none" stroke="#72a630" stroke-width="1.45" stroke-linejoin="round"/>
<rect x="226.3" y="351.3" width="129.00" height="79.90" fill="none" stroke="#111" stroke-width="1.5"/>
<text x="253" y="382.0" font-size="8.3" fill="#111" font-family="Liberation Sans, sans-serif">NES: 3.80</text>
<text x="253" y="392.3" font-size="8.3" fill="#111" font-family="Liberation Sans, sans-serif">FWER &lt; 0.0001</text>
<text x="223.1" y="365.4" font-size="8.8" text-anchor="end" fill="#111" font-family="Liberation Sans, sans-serif">0.2</text>
<text x="223.1" y="385.6" font-size="8.8" text-anchor="end" fill="#111" font-family="Liberation Sans, sans-serif">0.1</text>
<text x="223.1" y="406.1" font-size="8.8" text-anchor="end" fill="#111" font-family="Liberation Sans, sans-serif">0</text>
<text x="225.5" y="445.0" font-size="8.7" fill="#111" font-family="Liberation Sans, sans-serif"><tspan font-style="italic">Sin3B</tspan><tspan font-style="italic" font-size="6.4" dy="-3.2">CKO</tspan><tspan dy="3.2">&gt;Ctrl</tspan></text>
<text x="356.5" y="445.0" font-size="8.7" text-anchor="end" fill="#111" font-family="Liberation Sans, sans-serif"><tspan font-style="italic">Sin3B</tspan><tspan font-style="italic" font-size="6.4" dy="-3.2">CKO</tspan><tspan dy="3.2">&lt;Ctrl</tspan></text>
<text transform="translate(205.0,392.1) rotate(-90)" font-size="10.2" text-anchor="middle" textLength="72.5" lengthAdjust="spacingAndGlyphs" fill="#111" font-family="Liberation Sans, sans-serif">Enrichment score</text>
<text x="447.5" y="333.1" font-size="10.5" text-anchor="middle" fill="#111" font-family="Liberation Sans, sans-serif">MYC Targets</text>
<text x="447.5" y="345.5" font-size="10.5" text-anchor="middle" fill="#111" font-family="Liberation Sans, sans-serif">(Reactome)</text>
<rect x="383.2" y="351.6" width="128.60" height="79.70" fill="#fff"/>
<g shape-rendering="crispEdges">
<rect x="384" y="407.40" width="2" height="19.20" fill="#c4c4c4"/>
<rect x="386" y="407.40" width="1" height="19.20" fill="#9a9a9a"/>
<rect x="387" y="407.40" width="2" height="19.20" fill="#333"/>
<rect x="389" y="407.40" width="1" height="19.20" fill="#888"/>
<rect x="390" y="407.40" width="1" height="19.20" fill="#b0b0b0"/>
<rect x="391" y="407.40" width="1" height="19.20" fill="#111"/>
<rect x="392" y="407.40" width="2" height="19.20" fill="#333"/>
<rect x="394" y="407.40" width="1" height="19.20" fill="#777"/>
<rect x="396" y="407.40" width="1" height="19.20" fill="#333"/>
<rect x="397" y="407.40" width="2" height="19.20" fill="#333"/>
<rect x="399" y="407.40" width="1" height="19.20" fill="#333"/>
<rect x="400" y="407.40" width="1" height="19.20" fill="#222"/>
<rect x="403" y="407.40" width="1" height="19.20" fill="#111"/>
<rect x="406" y="407.40" width="1" height="19.20" fill="#c4c4c4"/>
<rect x="408" y="407.40" width="1" height="19.20" fill="#9a9a9a"/>
<rect x="409" y="407.40" width="1" height="19.20" fill="#111"/>
<rect x="410" y="407.40" width="1" height="19.20" fill="#9a9a9a"/>
<rect x="411" y="407.40" width="1" height="19.20" fill="#c4c4c4"/>
<rect x="412" y="407.40" width="1" height="19.20" fill="#222"/>
<rect x="413" y="407.40" width="1" height="19.20" fill="#111"/>
<rect x="414" y="407.40" width="1" height="19.20" fill="#c4c4c4"/>
<rect x="415" y="407.40" width="2" height="19.20" fill="#9a9a9a"/>
<rect x="421" y="407.40" width="1" height="19.20" fill="#9a9a9a"/>
<rect x="423" y="407.40" width="2" height="19.20" fill="#444"/>
<rect x="425" y="407.40" width="2" height="19.20" fill="#888"/>
<rect x="427" y="407.40" width="1" height="19.20" fill="#b0b0b0"/>
<rect x="428" y="407.40" width="1" height="19.20" fill="#111"/>
<rect x="430" y="407.40" width="1" height="19.20" fill="#c4c4c4"/>
<rect x="431" y="407.40" width="2" height="19.20" fill="#c4c4c4"/>
<rect x="434" y="407.40" width="1" height="19.20" fill="#c4c4c4"/>
<rect x="435" y="407.40" width="2" height="19.20" fill="#444"/>
<rect x="438" y="407.40" width="2" height="19.20" fill="#9a9a9a"/>
<rect x="440" y="407.40" width="1" height="19.20" fill="#b0b0b0"/>
<rect x="442" y="407.40" width="1" height="19.20" fill="#444"/>
<rect x="445" y="407.40" width="1" height="19.20" fill="#b0b0b0"/>
<rect x="447" y="407.40" width="1" height="19.20" fill="#9a9a9a"/>
<rect x="448" y="407.40" width="1" height="19.20" fill="#9a9a9a"/>
<rect x="449" y="407.40" width="1" height="19.20" fill="#888"/>
<rect x="451" y="407.40" width="1" height="19.20" fill="#b0b0b0"/>
<rect x="452" y="407.40" width="1" height="19.20" fill="#c4c4c4"/>
<rect x="453" y="407.40" width="1" height="19.20" fill="#9a9a9a"/>
<rect x="455" y="407.40" width="1" height="19.20" fill="#c4c4c4"/>
<rect x="459" y="407.40" width="2" height="19.20" fill="#c4c4c4"/>
<rect x="467" y="407.40" width="2" height="19.20" fill="#b0b0b0"/>
<rect x="469" y="407.40" width="1" height="19.20" fill="#9a9a9a"/>
<rect x="471" y="407.40" width="1" height="19.20" fill="#777"/>
<rect x="474" y="407.40" width="1" height="19.20" fill="#777"/>
<rect x="475" y="407.40" width="1" height="19.20" fill="#888"/>
<rect x="476" y="407.40" width="1" height="19.20" fill="#777"/>
<rect x="481" y="407.40" width="2" height="19.20" fill="#b0b0b0"/>
<rect x="484" y="407.40" width="1" height="19.20" fill="#888"/>
<rect x="485" y="407.40" width="2" height="19.20" fill="#9a9a9a"/>
<rect x="488" y="407.40" width="1" height="19.20" fill="#9a9a9a"/>
<rect x="489" y="407.40" width="2" height="19.20" fill="#888"/>
<rect x="497" y="407.40" width="1" height="19.20" fill="#b0b0b0"/>
<rect x="499" y="407.40" width="1" height="19.20" fill="#9a9a9a"/>
<rect x="502" y="407.40" width="2" height="19.20" fill="#777"/>
</g>
<defs><linearGradient id="cs6" x1="0" x2="1"><stop offset="0.003" stop-color="#dc2a3c"/><stop offset="0.374" stop-color="#e04a5c"/><stop offset="0.491" stop-color="#eea4b4"/><stop offset="0.599" stop-color="#f6f0f4"/><stop offset="0.708" stop-color="#e0def0"/><stop offset="0.775" stop-color="#6a66b0"/><stop offset="0.992" stop-color="#3a3892"/></linearGradient></defs>
<rect x="383.2" y="426.60" width="119.80" height="4.70" fill="url(#cs6)"/>
<line x1="383.2" y1="407.40" x2="511.8" y2="407.40" stroke="#777" stroke-width="0.9"/>
<line x1="383.2" y1="401.40" x2="511.8" y2="401.40" stroke="#aaa" stroke-width="0.8"/>
<polyline points="384.00,401.00 384.90,401.75 385.80,401.21 386.63,401.18 387.47,401.99 388.30,400.96 389.13,397.36 389.97,396.03 390.80,393.15 391.63,391.72 392.47,388.42 393.30,386.92 394.13,383.68 394.97,380.05 395.80,376.58 396.63,375.26 397.47,374.43 398.30,373.82 399.13,373.27 399.97,371.98 400.80,372.08 401.54,370.30 402.28,370.66 403.02,369.62 403.76,370.62 404.50,370.55 405.26,369.78 406.02,368.02 406.78,368.09 407.54,367.75 408.30,366.61 409.04,365.94 409.78,366.97 410.52,366.08 411.26,366.15 412.00,366.82 412.76,364.80 413.52,366.20 414.28,366.24 415.04,364.82 415.80,363.69 416.54,362.23 417.28,362.81 418.02,360.42 418.76,361.13 419.50,360.56 420.33,358.32 421.17,356.48 422.00,354.83 422.83,354.78 423.67,355.57 424.50,354.56 425.26,355.99 426.02,356.86 426.78,356.50 427.54,357.16 428.30,356.76 429.04,356.82 429.78,357.21 430.52,358.40 431.26,357.64 432.00,357.14 432.76,357.15 433.52,357.05 434.28,356.34 435.04,358.38 435.80,357.56 436.54,356.93 437.28,356.41 438.02,357.19 438.76,358.54 439.50,358.40 440.26,358.40 441.02,357.96 441.78,357.42 442.54,356.33 443.30,357.14 444.04,356.76 444.78,358.08 445.52,356.98 446.26,355.72 447.00,354.40 447.76,354.30 448.52,355.41 449.28,355.76 450.04,354.71 450.80,353.90 451.54,354.61 452.28,354.38 453.02,354.61 453.76,354.43 454.50,353.61 455.33,353.93 456.17,356.00 457.00,357.65 457.76,358.72 458.52,360.26 459.28,361.43 460.04,361.28 460.80,362.40 461.54,360.62 462.28,362.05 463.02,362.37 463.76,363.50 464.50,364.21 465.26,363.17 466.02,363.37 466.78,364.60 467.54,364.05 468.30,364.37 469.04,364.59 469.78,366.01 470.52,366.88 471.26,366.79 472.00,366.60 472.76,366.90 473.52,368.81 474.28,369.03 475.04,369.18 475.80,369.63 476.54,369.78 477.28,371.38 478.02,372.44 478.76,370.93 479.50,372.12 480.26,373.10 481.02,373.52 481.78,374.32 482.54,376.26 483.30,376.45 484.04,377.75 484.78,378.62 485.52,377.44 486.26,379.79 487.00,380.16 487.76,380.29 488.52,381.60 489.28,383.12 490.04,382.51 490.80,382.59 491.54,384.07 492.28,383.60 493.02,384.40 493.76,386.17 494.50,388.15 495.26,389.53 496.02,390.98 496.78,392.42 497.54,392.43 498.30,392.96 499.04,393.73 499.78,394.59 500.52,396.68 501.26,398.08 502.00,396.93 502.76,398.57 503.52,398.56 504.28,400.28 505.04,401.04 505.80,401.80" fill="none" stroke="#72a630" stroke-width="1.45" stroke-linejoin="round"/>
<rect x="383.2" y="351.6" width="128.60" height="79.70" fill="none" stroke="#111" stroke-width="1.5"/>
<text x="413" y="381.8" font-size="8.3" fill="#111" font-family="Liberation Sans, sans-serif">NES: 3.47</text>
<text x="413" y="392.1" font-size="8.3" fill="#111" font-family="Liberation Sans, sans-serif">FWER &lt; 0.0001</text>
<text x="380.0" y="362.3" font-size="8.8" text-anchor="end" fill="#111" font-family="Liberation Sans, sans-serif">0.2</text>
<text x="380.0" y="382.9" font-size="8.8" text-anchor="end" fill="#111" font-family="Liberation Sans, sans-serif">0.1</text>
<text x="380.0" y="403.6" font-size="8.8" text-anchor="end" fill="#111" font-family="Liberation Sans, sans-serif">0</text>
<text x="382.4" y="445.1" font-size="8.7" fill="#111" font-family="Liberation Sans, sans-serif"><tspan font-style="italic">Sin3B</tspan><tspan font-style="italic" font-size="6.4" dy="-3.2">CKO</tspan><tspan dy="3.2">&gt;Ctrl</tspan></text>
<text x="513.0" y="445.1" font-size="8.7" text-anchor="end" fill="#111" font-family="Liberation Sans, sans-serif"><tspan font-style="italic">Sin3B</tspan><tspan font-style="italic" font-size="6.4" dy="-3.2">CKO</tspan><tspan dy="3.2">&lt;Ctrl</tspan></text>
<text x="7.7" y="584.4" font-size="12.6" font-weight="bold" font-family="Liberation Sans, sans-serif">C</text>
<text x="146.8" y="596.4" font-size="10.4" text-anchor="middle" fill="#111" font-family="Liberation Sans, sans-serif">ChEA</text>
<rect x="57.6" y="604.90" width="147.70" height="7.6" fill="#aa0e36" stroke="#7e0a26" stroke-width="0.6"/>
<line x1="54.4" y1="608.70" x2="57" y2="608.70" stroke="#111" stroke-width="1"/>
<text x="50.6" y="611.80" font-size="8.8" text-anchor="end" fill="#111" font-family="Liberation Sans, sans-serif">KDM5A</text>
<rect x="57.6" y="616.90" width="137.00" height="7.6" fill="#aa0e36" stroke="#7e0a26" stroke-width="0.6"/>
<line x1="54.4" y1="620.70" x2="57" y2="620.70" stroke="#111" stroke-width="1"/>
<text x="50.6" y="623.80" font-size="8.8" text-anchor="end" fill="#111" font-family="Liberation Sans, sans-serif">MYC</text>
<rect x="57.6" y="628.90" width="131.20" height="7.6" fill="#aa0e36" stroke="#7e0a26" stroke-width="0.6"/>
<line x1="54.4" y1="632.70" x2="57" y2="632.70" stroke="#111" stroke-width="1"/>
<text x="50.6" y="635.80" font-size="8.8" text-anchor="end" fill="#111" font-family="Liberation Sans, sans-serif">E2F1</text>
<rect x="57.6" y="641.20" width="124.60" height="7.6" fill="#aa0e36" stroke="#7e0a26" stroke-width="0.6"/>
<line x1="54.4" y1="645.00" x2="57" y2="645.00" stroke="#111" stroke-width="1"/>
<text x="50.6" y="648.10" font-size="8.8" text-anchor="end" fill="#111" font-family="Liberation Sans, sans-serif">CREB1</text>
<rect x="57.6" y="653.90" width="114.50" height="7.6" fill="#aa0e36" stroke="#7e0a26" stroke-width="0.6"/>
<line x1="54.4" y1="657.70" x2="57" y2="657.70" stroke="#111" stroke-width="1"/>
<text x="50.6" y="660.80" font-size="8.8" text-anchor="end" fill="#111" font-family="Liberation Sans, sans-serif">KDM5B</text>
<rect x="57.6" y="665.90" width="113.40" height="7.6" fill="#aa0e36" stroke="#7e0a26" stroke-width="0.6"/>
<line x1="54.4" y1="669.70" x2="57" y2="669.70" stroke="#111" stroke-width="1"/>
<text x="50.6" y="672.80" font-size="8.8" text-anchor="end" fill="#111" font-family="Liberation Sans, sans-serif">E2F4</text>
<rect x="57.6" y="678.20" width="112.80" height="7.6" fill="#aa0e36" stroke="#7e0a26" stroke-width="0.6"/>
<line x1="54.4" y1="682.00" x2="57" y2="682.00" stroke="#111" stroke-width="1"/>
<text x="50.6" y="685.10" font-size="8.8" text-anchor="end" fill="#111" font-family="Liberation Sans, sans-serif">KDM6A</text>
<rect x="57.6" y="690.50" width="95.20" height="7.6" fill="#aa0e36" stroke="#7e0a26" stroke-width="0.6"/>
<line x1="54.4" y1="694.30" x2="57" y2="694.30" stroke="#111" stroke-width="1"/>
<text x="50.6" y="697.40" font-size="8.8" text-anchor="end" fill="#111" font-family="Liberation Sans, sans-serif">CCDN1</text>
<rect x="57.6" y="703.00" width="73.00" height="7.6" fill="#aa0e36" stroke="#7e0a26" stroke-width="0.6"/>
<line x1="54.4" y1="706.80" x2="57" y2="706.80" stroke="#111" stroke-width="1"/>
<text x="50.6" y="709.90" font-size="8.8" text-anchor="end" fill="#111" font-family="Liberation Sans, sans-serif">MYB</text>
<line x1="57" y1="601.5" x2="57" y2="713.8" stroke="#111" stroke-width="1.3"/>
<line x1="56.4" y1="713.3" x2="237" y2="713.3" stroke="#111" stroke-width="1.3"/>
<line x1="57.0" y1="713.3" x2="57.0" y2="716.4" stroke="#111" stroke-width="1.1"/>
<text x="57.0" y="727.6" font-size="8.6" text-anchor="middle" fill="#111" font-family="Liberation Sans, sans-serif">0</text>
<line x1="92.3" y1="713.3" x2="92.3" y2="716.4" stroke="#111" stroke-width="1.1"/>
<text x="92.3" y="727.6" font-size="8.6" text-anchor="middle" fill="#111" font-family="Liberation Sans, sans-serif">10</text>
<line x1="127.6" y1="713.3" x2="127.6" y2="716.4" stroke="#111" stroke-width="1.1"/>
<text x="127.6" y="727.6" font-size="8.6" text-anchor="middle" fill="#111" font-family="Liberation Sans, sans-serif">20</text>
<line x1="162.9" y1="713.3" x2="162.9" y2="716.4" stroke="#111" stroke-width="1.1"/>
<text x="162.9" y="727.6" font-size="8.6" text-anchor="middle" fill="#111" font-family="Liberation Sans, sans-serif">30</text>
<line x1="198.2" y1="713.3" x2="198.2" y2="716.4" stroke="#111" stroke-width="1.1"/>
<text x="198.2" y="727.6" font-size="8.6" text-anchor="middle" fill="#111" font-family="Liberation Sans, sans-serif">40</text>
<line x1="233.5" y1="713.3" x2="233.5" y2="716.4" stroke="#111" stroke-width="1.1"/>
<text x="233.5" y="727.6" font-size="8.6" text-anchor="middle" fill="#111" font-family="Liberation Sans, sans-serif">50</text>
<text x="113.8" y="742.2" font-size="10.4" textLength="66.4" lengthAdjust="spacingAndGlyphs" fill="#111" font-family="Liberation Sans, sans-serif">Combined score</text>
<text x="255.8" y="509.6" font-size="12.3" font-weight="bold" font-family="Liberation Sans, sans-serif">D</text>
<text x="296.8" y="529.0" font-size="8.3" text-anchor="middle" fill="#111" font-family="Liberation Sans, sans-serif">10% Input</text>
<text x="372.2" y="529.0" font-size="8.3" text-anchor="middle" fill="#111" font-family="Liberation Sans, sans-serif">FLAG IP</text>
<line x1="268.2" y1="534.8" x2="327.8" y2="534.8" stroke="#222" stroke-width="1.1"/>
<line x1="342.2" y1="534.8" x2="401.2" y2="534.8" stroke="#222" stroke-width="1.1"/>
<text transform="translate(290.8,583.4) rotate(-90)" font-size="8.2" fill="#111" font-family="Liberation Sans, sans-serif">EV</text>
<text transform="translate(318.2,583.4) rotate(-90)" font-size="8.2" fill="#111" font-family="Liberation Sans, sans-serif">Sin3B FLAG</text>
<text transform="translate(362.2,583.4) rotate(-90)" font-size="8.2" fill="#111" font-family="Liberation Sans, sans-serif">EV</text>
<text transform="translate(389.4,583.4) rotate(-90)" font-size="8.2" fill="#111" font-family="Liberation Sans, sans-serif">Sin3B FLAG</text>
<defs><filter id="b06" x="-30%" y="-60%" width="160%" height="220%"><feGaussianBlur stdDeviation="0.6"/></filter><filter id="b09" x="-30%" y="-60%" width="160%" height="220%"><feGaussianBlur stdDeviation="0.95"/></filter><filter id="b1" x="-30%" y="-60%" width="160%" height="220%"><feGaussianBlur stdDeviation="1.0"/></filter><filter id="b15" x="-30%" y="-60%" width="160%" height="220%"><feGaussianBlur stdDeviation="1.5"/></filter><filter id="b2" x="-30%" y="-60%" width="160%" height="220%"><feGaussianBlur stdDeviation="2.2"/></filter><clipPath id="cpL"><rect x="268.2" y="586" width="60" height="140"/></clipPath><clipPath id="cpR"><rect x="342.2" y="586" width="58.8" height="140"/></clipPath></defs>
<rect x="268.20" y="586.90" width="59.60" height="25.30" rx="0" fill="#bababa" opacity="1"/>
<rect x="342.20" y="586.90" width="59.00" height="25.30" rx="0" fill="#b0b0b0" opacity="1"/>
<text x="404.4" y="602.2" font-size="8.4" fill="#111" font-family="Liberation Sans, sans-serif">Sin3B</text>
<rect x="268.20" y="614.80" width="59.60" height="25.40" rx="0" fill="#acacac" opacity="1"/>
<rect x="342.20" y="614.80" width="59.00" height="25.40" rx="0" fill="#b2b2b2" opacity="1"/>
<text x="404.4" y="630.2" font-size="8.4" fill="#111" font-family="Liberation Sans, sans-serif">HDAC1</text>
<rect x="268.20" y="642.90" width="59.60" height="25.30" rx="0" fill="#b0b0b0" opacity="1"/>
<rect x="342.20" y="642.90" width="59.00" height="25.30" rx="0" fill="#acacac" opacity="1"/>
<text x="404.4" y="658.2" font-size="8.4" fill="#111" font-family="Liberation Sans, sans-serif">E2F4</text>
<rect x="268.20" y="670.80" width="59.60" height="25.40" rx="0" fill="#b0b0b0" opacity="1"/>
<rect x="342.20" y="670.80" width="59.00" height="25.40" rx="0" fill="#bcbcbc" opacity="1"/>
<text x="404.4" y="686.2" font-size="8.4" fill="#111" font-family="Liberation Sans, sans-serif">KDM5A</text>
<rect x="268.20" y="698.80" width="59.60" height="25.60" rx="0" fill="#a6a6a6" opacity="1"/>
<rect x="342.20" y="698.80" width="59.00" height="25.60" rx="0" fill="#a4a4a4" opacity="1"/>
<text x="404.4" y="714.3" font-size="8.4" fill="#111" font-family="Liberation Sans, sans-serif">HDAC3</text>
<g clip-path="url(#cpL)">
<rect x="269.00" y="588.00" width="7.00" height="23.00" rx="0" fill="#c8c8c8" opacity="0.8" filter="url(#b1)"/>
<rect x="303.00" y="588.00" width="20.20" height="23.00" rx="0" fill="#808080" opacity="0.55" filter="url(#b15)"/>
<path d="M303.30,596.35 Q313.15,597.85 323.00,596.35 L323.00,604.85 Q313.15,603.35 303.30,604.85 Z" fill="#1e1e1e" opacity="1" filter="url(#b1)"/>
<rect x="276.50" y="619.00" width="18.10" height="9.00" rx="0" fill="#989898" opacity="0.5" filter="url(#b15)"/>
<rect x="302.70" y="619.00" width="21.10" height="9.00" rx="0" fill="#989898" opacity="0.5" filter="url(#b15)"/>
<rect x="295.00" y="616.00" width="7.00" height="23.00" rx="0" fill="#c0c0c0" opacity="0.6" filter="url(#b1)"/>
<path d="M276.50,626.90 Q285.55,628.10 294.60,626.90 L294.60,633.90 Q285.55,632.70 276.50,633.90 Z" fill="#181818" opacity="1" filter="url(#b09)"/>
<path d="M302.70,626.90 Q313.25,628.10 323.80,626.90 L323.80,633.90 Q313.25,632.70 302.70,633.90 Z" fill="#181818" opacity="1" filter="url(#b09)"/>
<rect x="274.00" y="644.50" width="19.30" height="12.50" rx="0" fill="#6a6a6a" opacity="0.6" filter="url(#b15)"/>
<rect x="302.00" y="644.50" width="20.00" height="12.50" rx="0" fill="#6a6a6a" opacity="0.6" filter="url(#b15)"/>
<rect x="294.00" y="644.00" width="7.50" height="23.00" rx="0" fill="#c4c4c4" opacity="0.6" filter="url(#b1)"/>
<path d="M274.00,654.60 Q283.65,655.60 293.30,654.60 L293.30,663.00 Q283.65,662.00 274.00,663.00 Z" fill="#121212" opacity="1" filter="url(#b09)"/>
<path d="M302.00,654.60 Q312.00,655.60 322.00,654.60 L322.00,663.00 Q312.00,662.00 302.00,663.00 Z" fill="#121212" opacity="1" filter="url(#b09)"/>
<rect x="275.20" y="672.00" width="19.70" height="23.50" rx="0" fill="#6e6e6e" opacity="0.85" filter="url(#b1)"/>
<rect x="303.00" y="672.00" width="20.20" height="23.50" rx="0" fill="#6e6e6e" opacity="0.85" filter="url(#b1)"/>
<rect x="275.50" y="679.50" width="19.10" height="5.10" rx="0" fill="#3a3a3a" opacity="0.8" filter="url(#b1)"/>
<rect x="303.30" y="679.50" width="19.70" height="5.10" rx="0" fill="#3a3a3a" opacity="0.8" filter="url(#b1)"/>
<rect x="275.50" y="685.00" width="19.10" height="1.00" rx="0" fill="#9a9a9a" opacity="0.7" filter="url(#b06)"/>
<rect x="303.30" y="685.00" width="19.70" height="1.00" rx="0" fill="#9a9a9a" opacity="0.7" filter="url(#b06)"/>
<path d="M275.50,686.30 Q285.05,686.60 294.60,686.30 L294.60,689.30 Q285.05,689.00 275.50,689.30 Z" fill="#141414" opacity="1" filter="url(#b09)"/>
<path d="M303.30,686.30 Q313.15,686.60 323.00,686.30 L323.00,689.30 Q313.15,689.00 303.30,689.30 Z" fill="#141414" opacity="1" filter="url(#b09)"/>
<path d="M274.00,708.20 Q283.25,709.80 292.50,708.20 L292.50,715.20 Q283.25,713.60 274.00,715.20 Z" fill="#151515" opacity="1" filter="url(#b09)"/>
<path d="M301.00,708.20 Q311.05,709.80 321.10,708.20 L321.10,715.20 Q311.05,713.60 301.00,715.20 Z" fill="#151515" opacity="1" filter="url(#b09)"/>
</g>
<g clip-path="url(#cpR)">
<rect x="394.50" y="587.00" width="6.50" height="25.00" rx="0" fill="#c2c2c2" opacity="0.8" filter="url(#b1)"/>
<rect x="375.70" y="586.00" width="18.50" height="27.00" rx="0" fill="#3c3c3c" opacity="0.9" filter="url(#b1)"/>
<rect x="376.00" y="594.50" width="18.00" height="10.50" rx="0" fill="#1e1e1e" opacity="0.9" filter="url(#b15)"/>
<path d="M350.00,628.70 Q358.00,629.00 366.00,628.70 L366.00,631.30 Q358.00,631.00 350.00,631.30 Z" fill="#909090" opacity="0.6" filter="url(#b1)"/>
<path d="M376.00,627.60 Q384.75,628.20 393.50,627.60 L393.50,631.60 Q384.75,631.00 376.00,631.60 Z" fill="#1c1c1c" opacity="1" filter="url(#b09)"/>
<rect x="375.80" y="627.20" width="4.20" height="4.80" rx="1.5" fill="#111" opacity="0.6" filter="url(#b1)"/>
<path d="M349.00,653.25 Q357.50,653.75 366.00,653.25 L366.00,656.75 Q357.50,656.25 349.00,656.75 Z" fill="#8c8c8c" opacity="0.5" filter="url(#b1)"/>
<path d="M377.50,652.90 Q386.25,653.50 395.00,652.90 L395.00,657.10 Q386.25,656.50 377.50,657.10 Z" fill="#262626" opacity="1" filter="url(#b09)"/>
<rect x="391.00" y="652.80" width="4.00" height="4.40" rx="1.5" fill="#0a0a0a" opacity="0.5" filter="url(#b1)"/>
<rect x="342.20" y="671.00" width="4.80" height="25.00" rx="0" fill="#c4c4c4" opacity="0.9" filter="url(#b06)"/>
<rect x="365.80" y="671.00" width="9.00" height="25.00" rx="0" fill="#cacaca" opacity="0.9" filter="url(#b06)"/>
<rect x="394.20" y="671.00" width="7.00" height="25.00" rx="0" fill="#cccccc" opacity="0.9" filter="url(#b06)"/>
<rect x="347.50" y="672.00" width="18.00" height="23.50" rx="0" fill="#7a7a7a" opacity="0.8" filter="url(#b1)"/>
<rect x="375.60" y="672.00" width="18.40" height="23.50" rx="0" fill="#707070" opacity="0.85" filter="url(#b1)"/>
<path d="M376.00,687.00 Q385.00,687.30 394.00,687.00 L394.00,689.60 Q385.00,689.30 376.00,689.60 Z" fill="#161616" opacity="1" filter="url(#b09)"/>
</g>
<rect x="268.2" y="586.9" width="59.6" height="25.3" fill="none" stroke="#161616" stroke-width="1.3"/>
<rect x="342.2" y="586.9" width="59.0" height="25.3" fill="none" stroke="#161616" stroke-width="1.3"/>
<rect x="268.2" y="614.8" width="59.6" height="25.4" fill="none" stroke="#161616" stroke-width="1.3"/>
<rect x="342.2" y="614.8" width="59.0" height="25.4" fill="none" stroke="#161616" stroke-width="1.3"/>
<rect x="268.2" y="642.9" width="59.6" height="25.3" fill="none" stroke="#161616" stroke-width="1.3"/>
<rect x="342.2" y="642.9" width="59.0" height="25.3" fill="none" stroke="#161616" stroke-width="1.3"/>
<rect x="268.2" y="670.8" width="59.6" height="25.4" fill="none" stroke="#161616" stroke-width="1.3"/>
<rect x="342.2" y="670.8" width="59.0" height="25.4" fill="none" stroke="#161616" stroke-width="1.3"/>
<rect x="268.2" y="698.8" width="59.6" height="25.6" fill="none" stroke="#161616" stroke-width="1.3"/>
<rect x="342.2" y="698.8" width="59.0" height="25.6" fill="none" stroke="#161616" stroke-width="1.3"/>
<rect x="0.6" y="0.6" width="518.6" height="750.6" fill="none" stroke="#000" stroke-width="1.4"/>
<rect x="518.4" y="0" width="1.6" height="752" fill="#000"/>
<rect x="0" y="750.3" width="520" height="1.7" fill="#000"/>
</svg></body></html>
